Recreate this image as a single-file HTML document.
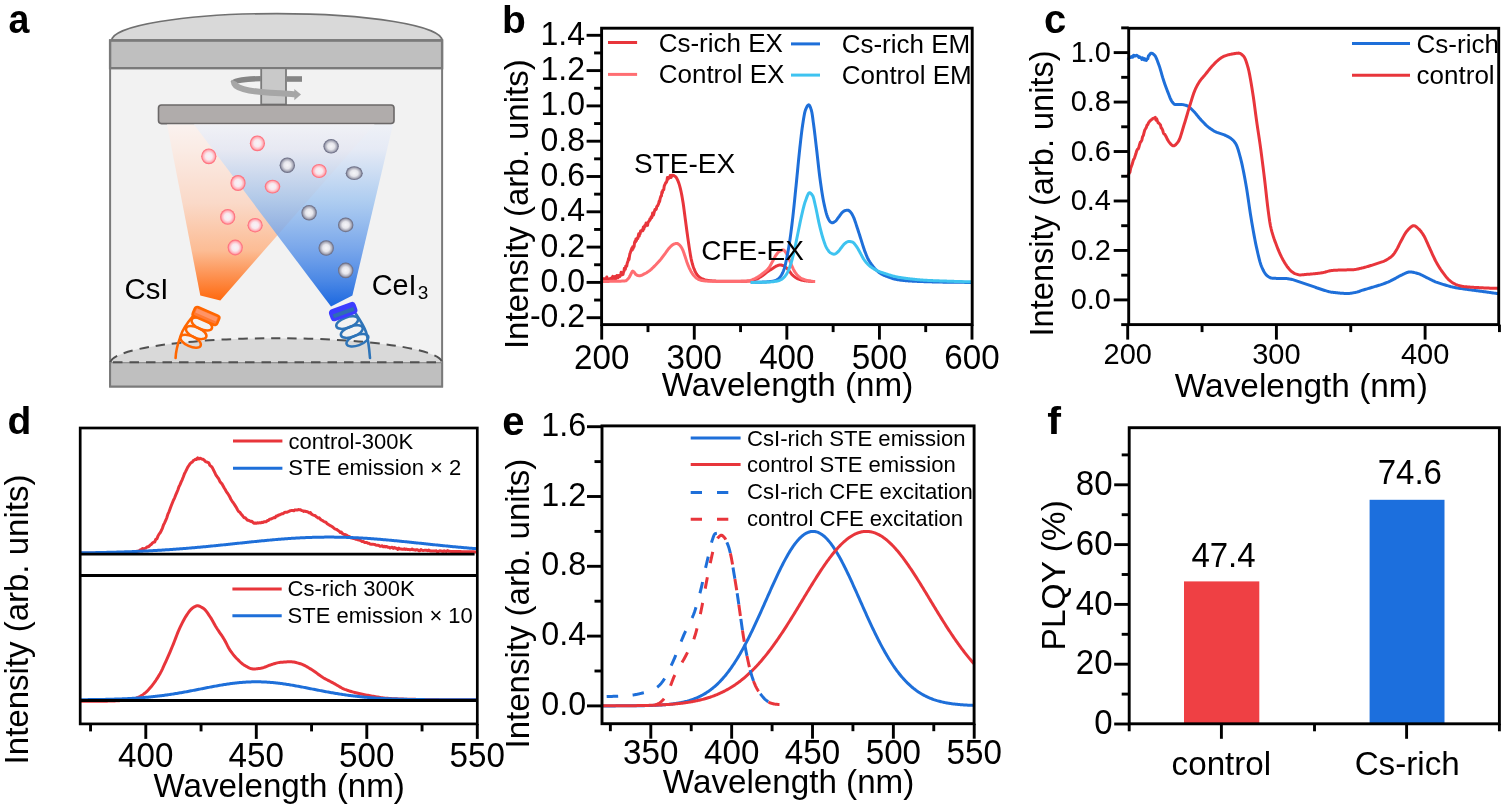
<!DOCTYPE html>
<html><head><meta charset="utf-8"><title>Figure</title>
<style>html,body{margin:0;padding:0;background:#fff;} svg{display:block;} text{font-family:'Liberation Sans', Arial, Helvetica, sans-serif;fill:#000;}</style>
</head><body>
<svg width="1501" height="808" viewBox="0 0 1501 808">
<rect x="0" y="0" width="1501" height="808" fill="#fff"/>
<defs>
<linearGradient id="gOr" gradientUnits="userSpaceOnUse" x1="0" y1="124" x2="0" y2="300"><stop offset="0" stop-color="#FAF2EF"/><stop offset="0.15" stop-color="#FAEBE4"/><stop offset="0.45" stop-color="#FAD9C8"/><stop offset="0.72" stop-color="#FCBC94"/><stop offset="0.86" stop-color="#FD9252"/><stop offset="1" stop-color="#FF6A10"/></linearGradient>
<linearGradient id="gBl" gradientUnits="userSpaceOnUse" x1="0" y1="124" x2="0" y2="306"><stop offset="0" stop-color="#EEF1F8" stop-opacity="0.8"/><stop offset="0.14" stop-color="#E2E8F6" stop-opacity="0.8"/><stop offset="0.42" stop-color="#9EC4F0" stop-opacity="0.8"/><stop offset="0.7" stop-color="#6298E9" stop-opacity="0.86"/><stop offset="0.86" stop-color="#3F80E4" stop-opacity="0.93"/><stop offset="1" stop-color="#1C68E0" stop-opacity="1"/></linearGradient>
<radialGradient id="gRs" cx="0.5" cy="0.5" r="0.5"><stop offset="0" stop-color="#F6F4F8"/><stop offset="0.45" stop-color="#F9E8EE"/><stop offset="0.75" stop-color="#FFB2BA"/><stop offset="0.9" stop-color="#FF7884"/><stop offset="1" stop-color="#FF6A78"/></radialGradient>
<radialGradient id="gGs" cx="0.5" cy="0.5" r="0.5"><stop offset="0" stop-color="#F6F6F9"/><stop offset="0.45" stop-color="#E6E6EC"/><stop offset="0.75" stop-color="#ABACBA"/><stop offset="0.9" stop-color="#77798F"/><stop offset="1" stop-color="#65677D"/></radialGradient>
</defs>
<path d="M111.6,40.6 A165.3,27 0 0 1 442.2,40.6 Z" fill="#D9D9D9" stroke="#707070" stroke-width="1.6"/>
<rect x="110.1" y="40.2" width="332" height="346.3" fill="#F2F2F2" stroke="#7A7A7A" stroke-width="2"/>
<rect x="110.1" y="40.6" width="332" height="27.6" fill="#BFBFBF" stroke="#7A7A7A" stroke-width="2.4"/>
<rect x="110.1" y="362.2" width="332" height="24.3" fill="#BFBFBF" stroke="#7A7A7A" stroke-width="2"/>
<path d="M110.5,362.2 A165.8,24.6 0 0 1 442,362.2 Z" fill="#D9D9D9"/>
<path d="M110.5,362.2 A165.8,24.6 0 0 1 442,362.2" fill="none" stroke="#505050" stroke-width="2" stroke-dasharray="9.5,7"/>
<line x1="111" y1="362.2" x2="441" y2="362.2" stroke="#505050" stroke-width="2" stroke-dasharray="9.5,7" stroke-dashoffset="-2"/>
<rect x="261.2" y="68.2" width="24.8" height="36.3" fill="#C9C9C9" stroke="#7A7A7A" stroke-width="1.8"/>
<path d="M261,78.6 C245,79 234,80.5 233,83" fill="none" stroke="#858585" stroke-width="5.4"/>
<path d="M287,79 L302,79" fill="none" stroke="#858585" stroke-width="5.6"/>
<path d="M234.5,81 C231,88 250,91.5 270,92.7 C282,93.3 288,93.8 295,94.3" fill="none" stroke="#A6A6A6" stroke-width="6"/>
<path d="M294.3,89 L301,94.6 L294.3,100.3 Z" fill="#A6A6A6"/>
<rect x="158.5" y="105" width="235.5" height="18.6" rx="3" fill="#B0ACAB" stroke="#6B6868" stroke-width="1.6"/>
<polygon points="167,124.4 374.5,124.4 220.3,300.5 200.3,295.5" fill="url(#gOr)"/>
<polygon points="194,124.4 393,124.4 352.4,295.5 331,306.6" fill="url(#gBl)"/>
<ellipse cx="208.8" cy="156.3" rx="7.6" ry="7.9" fill="url(#gRs)"/>
<ellipse cx="257.4" cy="143.3" rx="7.6" ry="7.9" fill="url(#gRs)"/>
<ellipse cx="238" cy="183" rx="7.6" ry="8" fill="url(#gRs)"/>
<ellipse cx="272.5" cy="186.6" rx="7.8" ry="6.9" fill="url(#gRs)"/>
<ellipse cx="319.1" cy="171" rx="7.6" ry="7.0" fill="url(#gRs)"/>
<ellipse cx="227.7" cy="216.9" rx="7.6" ry="7.9" fill="url(#gRs)"/>
<ellipse cx="255.1" cy="225.2" rx="7.6" ry="7.2" fill="url(#gRs)"/>
<ellipse cx="235.2" cy="247.5" rx="7.6" ry="7.9" fill="url(#gRs)"/>
<ellipse cx="331.1" cy="146.3" rx="7.7" ry="7.3" fill="url(#gGs)"/>
<ellipse cx="287.3" cy="165.2" rx="7.7" ry="7.8" fill="url(#gGs)"/>
<ellipse cx="354.2" cy="173.2" rx="8.5" ry="6.9" fill="url(#gGs)"/>
<ellipse cx="309.1" cy="212.7" rx="7.7" ry="7.8" fill="url(#gGs)"/>
<ellipse cx="345.7" cy="224.9" rx="7.7" ry="7.3" fill="url(#gGs)"/>
<ellipse cx="326.2" cy="248" rx="7.7" ry="7.8" fill="url(#gGs)"/>
<ellipse cx="345.7" cy="270.4" rx="7.7" ry="7.8" fill="url(#gGs)"/>
<ellipse cx="201.8" cy="324.0" rx="11" ry="5.2" transform="rotate(24 201.8 324.0)" fill="none" stroke="#FF6600" stroke-width="2.5"/>
<ellipse cx="196.2" cy="332.6" rx="11" ry="5.2" transform="rotate(24 196.2 332.6)" fill="none" stroke="#FF6600" stroke-width="2.5"/>
<ellipse cx="190.6" cy="341.2" rx="11" ry="5.2" transform="rotate(24 190.6 341.2)" fill="none" stroke="#FF6600" stroke-width="2.5"/>
<path d="M193,316 C188,322 183,328 181,335 C179,341 176,347 175.6,358" fill="none" stroke="#FF6600" stroke-width="2.6" stroke-linecap="round"/>
<g transform="translate(206,316) rotate(23.5)"><rect x="-13.2" y="-5" width="26.4" height="10" rx="2.6" fill="#FF7A35" stroke="#FF6600" stroke-width="2.6"/><rect x="-11.2" y="-3.2" width="22.4" height="4.2" fill="#FF9466"/></g>
<ellipse cx="347.2" cy="322.6" rx="11.5" ry="5.2" transform="rotate(-20 347.2 322.6)" fill="none" stroke="#2E74B8" stroke-width="2.5"/>
<ellipse cx="351.8" cy="331.6" rx="11.5" ry="5.2" transform="rotate(-20 351.8 331.6)" fill="none" stroke="#2E74B8" stroke-width="2.5"/>
<ellipse cx="357.4" cy="340.2" rx="11.5" ry="5.2" transform="rotate(-20 357.4 340.2)" fill="none" stroke="#2E74B8" stroke-width="2.5"/>
<path d="M356,314 C360,320 364,326 366,332 C368,338 369,346 370,358" fill="none" stroke="#2E74B8" stroke-width="2.6" stroke-linecap="round"/>
<g transform="translate(343.2,311.6) rotate(-20)"><rect x="-12.8" y="-5" width="25.6" height="10" rx="2.6" fill="#3C3CFF" stroke="#3C3CFF" stroke-width="2.6"/><rect x="-11" y="-1" width="22" height="4.2" fill="#2F6DB4"/></g>
<text x="124.5" y="299.2" font-size="29.3" >CsI</text>
<text x="371.8" y="295" font-size="28.8">CeI<tspan font-size="19" dx="1.2" dy="4.2">3</tspan></text>
<text transform="translate(8.6,33.4) scale(0.94,1.0)" font-size="40" font-weight="bold" >a</text>
<polyline points="601.7,278.69 602.16,278.73 602.63,278.77 603.09,278.8 603.55,278.82 604.01,278.84 604.48,278.85 604.94,278.86 605.4,278.87 605.87,278.87 606.33,278.87 606.79,276.97 607.25,278.39 607.72,278.72 608.18,280.77 608.64,279.05 609.11,279.09 609.57,278.76 610.03,279.29 610.49,278.62 610.96,279.02 611.42,279.85 611.88,277.45 612.35,277.36 612.81,276.39 613.27,278.04 613.73,278.41 614.2,278.43 614.66,279.37 615.12,276.55 615.59,278.62 616.05,278.57 616.51,277.39 616.97,275.44 617.44,276.59 617.9,277.74 618.36,277.21 618.83,275.56 619.29,276.14 619.75,276.51 620.22,275.59 620.68,274.11 621.14,272.28 621.6,275.1 622.07,273.81 622.53,273.34 622.99,274.37 623.46,272.08 623.92,271.43 624.38,268.33 624.84,268.78 625.31,269.41 625.77,266.01 626.23,265.95 626.7,266.16 627.16,263.58 627.62,262.14 628.08,260.99 628.55,258.59 629.01,259.61 629.47,256.21 629.94,253.61 630.4,252.56 630.86,251.08 631.32,249.88 631.79,248.32 632.25,249.95 632.71,246.76 633.18,248.55 633.64,246.18 634.1,246.56 634.56,242.45 635.03,241.2 635.49,241.9 635.95,238.92 636.42,240.63 636.88,238.9 637.34,238.06 637.8,238.52 638.27,236.12 638.73,233.75 639.19,236.13 639.66,233.34 640.12,233.72 640.58,230.95 641.04,231.58 641.51,230.65 641.97,229.94 642.43,229.62 642.9,230.62 643.36,226.93 643.82,229.12 644.28,226.69 644.75,225.57 645.21,226.4 645.67,224.67 646.14,222.92 646.6,223.54 647.06,223.84 647.52,225.39 647.99,222.75 648.45,221.78 648.91,221.13 649.38,221.03 649.84,219.02 650.3,219.42 650.76,218.3 651.23,216.8 651.69,217.71 652.15,216.38 652.62,212.99 653.08,213.53 653.54,214.98 654,212.82 654.47,211.25 654.93,209.64 655.39,209.88 655.86,209.68 656.32,208.98 656.78,206.59 657.25,205.99 657.71,205.89 658.17,204.53 658.63,203.71 659.1,201.38 659.56,201.7 660.02,199.14 660.49,197.3 660.95,196.16 661.41,195.99 661.87,192.12 662.34,192.75 662.8,190.17 663.26,190.06 663.73,189.75 664.19,186.35 664.65,185.03 665.11,184.27 665.58,182.87 666.04,182.86 666.5,182.01 666.97,180.52 667.43,177.51 667.89,177.97 668.35,178.82 668.82,177.17 669.28,177.77 669.74,177.27 670.21,175.44 670.67,176.52 671.13,177.42 671.59,176.38 672.06,175.29 672.52,175.27 672.98,175.34 673.45,175.48 673.91,175.68 674.37,175.92 674.83,176.2 675.3,176.5 675.76,176.92 676.22,177.52 676.69,178.28 677.15,179.17 677.61,180.15 678.07,181.19 678.54,182.31 679,183.64 679.46,185.16 679.93,186.86 680.39,188.68 680.85,190.62 681.31,192.74 681.78,195.11 682.24,197.69 682.7,200.44 683.17,203.33 683.63,206.49 684.09,209.96 684.55,213.56 685.02,217.09 685.48,220.57 685.94,224.06 686.41,227.54 686.87,230.97 687.33,234.31 687.79,237.62 688.26,240.88 688.72,244.05 689.18,247.1 689.65,250.11 690.11,253.1 690.57,255.89 691.03,258.32 691.5,260.37 691.96,262.27 692.42,264.01 692.89,265.59 693.35,267.02 693.81,268.28 694.28,269.43 694.74,270.52 695.2,271.53 695.66,272.45 696.13,273.29 696.59,274.02 697.05,274.63 697.52,275.17 697.98,275.68 698.44,276.15 698.9,276.59 699.37,276.99 699.83,277.36 700.29,277.7 700.76,278 701.22,278.28 701.68,278.52 702.14,278.74 702.61,278.95 703.07,279.15 703.53,279.34 704,279.52 704.46,279.69 704.92,279.84 705.38,279.97 705.85,280.09 706.31,280.19 706.77,280.27 707.24,280.33 707.7,280.4 708.16,280.46 708.62,280.52 709.09,280.58 709.55,280.63 710.01,280.68 710.48,280.73 710.94,280.78 711.4,280.82 711.86,280.87 712.33,280.9 712.79,280.94 713.25,280.98 713.72,281.01 714.18,281.04 714.64,281.06 715.1,281.09 715.57,281.11 716.03,281.13 716.49,281.14 716.96,281.15 717.42,281.16 717.88,281.17 718.34,281.18 718.81,281.19 719.27,281.2 719.73,281.2 720.2,281.21 720.66,281.22 721.12,281.23 721.58,281.23 722.05,281.24 722.51,281.25 722.97,281.25 723.44,281.26 723.9,281.26 724.36,281.27 724.82,281.28 725.29,281.28 725.75,281.29 726.21,281.29 726.68,281.3 727.14,281.3 727.6,281.3 728.06,281.31 728.53,281.31 728.99,281.32 729.45,281.32 729.92,281.32 730.38,281.32 730.84,281.33 731.31,281.33 731.77,281.33 732.23,281.33 732.69,281.34 733.16,281.34 733.62,281.34 734.08,281.34 734.55,281.34 735.01,281.34 735.47,281.34 735.93,281.34 736.4,281.34 736.86,281.34 737.32,281.34 737.79,281.34 738.25,281.33 738.71,281.33 739.17,281.32 739.64,281.32 740.1,281.31 740.56,281.31 741.03,281.3 741.49,281.29 741.95,281.28 742.41,281.27 742.88,281.26 743.34,281.25 743.8,281.24 744.27,281.23 744.73,281.22 745.19,281.2 745.65,281.19 746.12,281.17 746.58,281.16 747.04,281.14 747.51,281.12 747.97,281.1 748.43,281.08 748.89,281.06 749.36,281.04 749.82,281.02 750.28,281 750.75,280.97 751.21,280.91 751.67,280.83 752.13,280.73 752.6,280.61 753.06,280.46 753.52,280.31 753.99,280.14 754.45,279.96 754.91,279.78 755.37,279.6 755.84,279.41 756.3,279.22 756.76,279.03 757.23,278.82 757.69,278.59 758.15,278.35 758.61,278.1 759.08,277.83 759.54,277.55 760,277.27 760.47,276.97 760.93,276.67 761.39,276.37 761.85,276.06 762.32,275.75 762.78,275.44 763.24,275.1 763.71,274.75 764.17,274.38 764.63,274 765.09,273.62 765.56,273.24 766.02,272.87 766.48,272.5 766.95,272.15 767.41,271.81 767.87,271.49 768.34,271.17 768.8,270.86 769.26,270.56 769.72,270.26 770.19,269.97 770.65,269.68 771.11,269.39 771.58,269.1 772.04,268.81 772.5,268.52 772.96,268.21 773.43,267.9 773.89,267.59 774.35,267.28 774.82,266.98 775.28,266.69 775.74,266.43 776.2,266.19 776.67,265.99 777.13,265.8 777.59,265.6 778.06,265.42 778.52,265.25 778.98,265.11 779.44,265 779.91,264.94 780.37,264.93 780.83,264.97 781.3,265.06 781.76,265.17 782.22,265.31 782.68,265.47 783.15,265.63 783.61,265.83 784.07,266.09 784.54,266.4 785,266.75 785.46,267.13 785.92,267.52 786.39,267.91 786.85,268.35 787.31,268.82 787.78,269.33 788.24,269.85 788.7,270.39 789.16,270.93 789.63,271.49 790.09,272.1 790.55,272.72 791.02,273.33 791.48,273.92 791.94,274.44 792.4,274.9 792.87,275.34 793.33,275.76 793.79,276.16 794.26,276.54 794.72,276.89 795.18,277.22 795.64,277.53 796.11,277.81 796.57,278.07 797.03,278.32 797.5,278.56 797.96,278.78 798.42,278.99 798.88,279.18 799.35,279.36 799.81,279.52 800.27,279.66 800.74,279.8 801.2,279.94 801.66,280.06 802.12,280.19 802.59,280.3 803.05,280.41 803.51,280.51 803.98,280.6 804.44,280.68 804.9,280.75 805.37,280.81 805.83,280.87 806.29,280.92 806.75,280.97 807.22,281.02 807.68,281.07 808.14,281.12 808.61,281.16 809.07,281.21 809.53,281.25 809.99,281.29 810.46,281.33 810.92,281.36 811.38,281.39 811.85,281.42 812.31,281.45 812.77,281.47 813.23,281.49 813.7,281.5 814.16,281.51 814.62,281.52 815.09,281.52" fill="none" stroke="#E8353B" stroke-width="3.0" stroke-linejoin="round" stroke-linecap="butt" />
<polyline points="601.7,281.52 602.16,281.51 602.63,281.5 603.09,281.49 603.55,281.48 604.01,281.47 604.48,281.46 604.94,281.46 605.4,281.45 605.87,281.44 606.33,281.43 606.79,281.42 607.25,281.41 607.72,281.4 608.18,281.39 608.64,281.39 609.11,281.38 609.57,281.37 610.03,281.36 610.49,281.35 610.96,281.34 611.42,281.33 611.88,281.32 612.35,281.32 612.81,281.31 613.27,281.3 613.73,281.29 614.2,281.29 614.66,281.28 615.12,281.27 615.59,281.27 616.05,281.26 616.51,281.25 616.97,281.24 617.44,281.23 617.9,281.22 618.36,281.21 618.83,281.2 619.29,281.19 619.75,281.18 620.22,281.16 620.68,281.15 621.14,281.14 621.6,281.12 622.07,281.1 622.53,281.08 622.99,281.06 623.46,281.03 623.92,281 624.38,280.96 624.84,280.91 625.31,280.86 625.77,280.79 626.23,280.57 626.7,280.18 627.16,279.71 627.62,279.22 628.08,278.73 628.55,278.17 629.01,277.55 629.47,276.87 629.94,276.09 630.4,275.13 630.86,274.12 631.32,273.22 631.79,272.32 632.25,271.48 632.71,271.1 633.18,271.28 633.64,271.69 634.1,272.16 634.56,272.75 635.03,273.47 635.49,274.1 635.95,274.51 636.42,274.86 636.88,275.16 637.34,275.39 637.8,275.52 638.27,275.59 638.73,275.64 639.19,275.68 639.66,275.69 640.12,275.66 640.58,275.58 641.04,275.45 641.51,275.28 641.97,275.08 642.43,274.86 642.9,274.63 643.36,274.39 643.82,274.15 644.28,273.93 644.75,273.7 645.21,273.47 645.67,273.22 646.14,272.96 646.6,272.68 647.06,272.4 647.52,272.1 647.99,271.8 648.45,271.48 648.91,271.15 649.38,270.82 649.84,270.47 650.3,270.1 650.76,269.71 651.23,269.3 651.69,268.87 652.15,268.44 652.62,267.99 653.08,267.53 653.54,267.08 654,266.62 654.47,266.16 654.93,265.7 655.39,265.24 655.86,264.78 656.32,264.3 656.78,263.82 657.25,263.33 657.71,262.84 658.17,262.33 658.63,261.82 659.1,261.29 659.56,260.76 660.02,260.21 660.49,259.64 660.95,259.05 661.41,258.46 661.87,257.85 662.34,257.24 662.8,256.63 663.26,256.01 663.73,255.39 664.19,254.77 664.65,254.16 665.11,253.54 665.58,252.9 666.04,252.24 666.5,251.59 666.97,250.93 667.43,250.29 667.89,249.66 668.35,249.07 668.82,248.5 669.28,247.98 669.74,247.48 670.21,246.98 670.67,246.5 671.13,246.03 671.59,245.6 672.06,245.22 672.52,244.89 672.98,244.63 673.45,244.41 673.91,244.19 674.37,243.99 674.83,243.8 675.3,243.64 675.76,243.52 676.22,243.43 676.69,243.39 677.15,243.44 677.61,243.61 678.07,243.88 678.54,244.22 679,244.59 679.46,244.98 679.93,245.42 680.39,245.95 680.85,246.57 681.31,247.27 681.78,248.04 682.24,248.86 682.7,249.82 683.17,250.95 683.63,252.21 684.09,253.56 684.55,254.93 685.02,256.28 685.48,257.67 685.94,259.15 686.41,260.63 686.87,262.03 687.33,263.3 687.79,264.49 688.26,265.64 688.72,266.73 689.18,267.78 689.65,268.76 690.11,269.69 690.57,270.58 691.03,271.44 691.5,272.26 691.96,273.03 692.42,273.75 692.89,274.4 693.35,274.98 693.81,275.53 694.28,276.06 694.74,276.56 695.2,277.03 695.66,277.46 696.13,277.86 696.59,278.21 697.05,278.52 697.52,278.79 697.98,279.06 698.44,279.31 698.9,279.54 699.37,279.75 699.83,279.93 700.29,280.09 700.76,280.22 701.22,280.32 701.68,280.41 702.14,280.5 702.61,280.58 703.07,280.66 703.53,280.73 704,280.8 704.46,280.86 704.92,280.92 705.38,280.97 705.85,281.02 706.31,281.06 706.77,281.09 707.24,281.12 707.7,281.15 708.16,281.16 708.62,281.18 709.09,281.19 709.55,281.21 710.01,281.22 710.48,281.23 710.94,281.25 711.4,281.26 711.86,281.27 712.33,281.28 712.79,281.29 713.25,281.31 713.72,281.32 714.18,281.33 714.64,281.34 715.1,281.35 715.57,281.36 716.03,281.37 716.49,281.38 716.96,281.39 717.42,281.39 717.88,281.4 718.34,281.41 718.81,281.42 719.27,281.43 719.73,281.43 720.2,281.44 720.66,281.45 721.12,281.45 721.58,281.46 722.05,281.46 722.51,281.47 722.97,281.47 723.44,281.48 723.9,281.48 724.36,281.49 724.82,281.49 725.29,281.49 725.75,281.5 726.21,281.5 726.68,281.5 727.14,281.51 727.6,281.51 728.06,281.51 728.53,281.51 728.99,281.51 729.45,281.52 729.92,281.52 730.38,281.52 730.84,281.52 731.31,281.52 731.77,281.52 732.23,281.52 732.69,281.51 733.16,281.51 733.62,281.51 734.08,281.51 734.55,281.5 735.01,281.5 735.47,281.49 735.93,281.48 736.4,281.48 736.86,281.47 737.32,281.46 737.79,281.45 738.25,281.44 738.71,281.43 739.17,281.42 739.64,281.4 740.1,281.39 740.56,281.38 741.03,281.36 741.49,281.35 741.95,281.33 742.41,281.31 742.88,281.29 743.34,281.27 743.8,281.25 744.27,281.23 744.73,281.21 745.19,281.18 745.65,281.16 746.12,281.14 746.58,281.11 747.04,281.08 747.51,281.05 747.97,281.02 748.43,280.99 748.89,280.95 749.36,280.87 749.82,280.75 750.28,280.61 750.75,280.44 751.21,280.25 751.67,280.05 752.13,279.85 752.6,279.64 753.06,279.43 753.52,279.22 753.99,279.02 754.45,278.8 754.91,278.58 755.37,278.34 755.84,278.09 756.3,277.84 756.76,277.58 757.23,277.31 757.69,277.03 758.15,276.75 758.61,276.46 759.08,276.16 759.54,275.85 760,275.53 760.47,275.2 760.93,274.86 761.39,274.51 761.85,274.15 762.32,273.79 762.78,273.43 763.24,273.06 763.71,272.69 764.17,272.33 764.63,271.97 765.09,271.61 765.56,271.25 766.02,270.87 766.48,270.48 766.95,270.07 767.41,269.63 767.87,269.15 768.34,268.63 768.8,268.05 769.26,267.37 769.72,266.63 770.19,265.83 770.65,264.99 771.11,264.13 771.58,263.26 772.04,262.4 772.5,261.57 772.96,260.73 773.43,259.85 773.89,258.94 774.35,258.03 774.82,257.15 775.28,256.31 775.74,255.54 776.2,254.87 776.67,254.24 777.13,253.63 777.59,253.05 778.06,252.52 778.52,252.05 778.98,251.65 779.44,251.34 779.91,251.08 780.37,250.83 780.83,250.59 781.3,250.38 781.76,250.2 782.22,250.06 782.68,249.97 783.15,249.93 783.61,250.01 784.07,250.33 784.54,250.83 785,251.44 785.46,252.1 785.92,252.75 786.39,253.43 786.85,254.23 787.31,255.11 787.78,256.04 788.24,257 788.7,258.05 789.16,259.19 789.63,260.37 790.09,261.57 790.55,262.75 791.02,263.87 791.48,264.96 791.94,266.06 792.4,267.15 792.87,268.2 793.33,269.19 793.79,270.1 794.26,270.9 794.72,271.64 795.18,272.34 795.64,272.99 796.11,273.61 796.57,274.2 797.03,274.74 797.5,275.24 797.96,275.69 798.42,276.12 798.88,276.53 799.35,276.92 799.81,277.29 800.27,277.64 800.74,277.96 801.2,278.25 801.66,278.51 802.12,278.74 802.59,278.95 803.05,279.15 803.51,279.34 803.98,279.52 804.44,279.69 804.9,279.85 805.37,279.99 805.83,280.13 806.29,280.25 806.75,280.36 807.22,280.46 807.68,280.55 808.14,280.64 808.61,280.73 809.07,280.82 809.53,280.91 809.99,280.99 810.46,281.07 810.92,281.14 811.38,281.21 811.85,281.27 812.31,281.33 812.77,281.38 813.23,281.43 813.7,281.46 814.16,281.49 814.62,281.51 815.09,281.52" fill="none" stroke="#FF6E72" stroke-width="3.0" stroke-linejoin="round" stroke-linecap="butt" />
<polyline points="750.75,282.4 751.21,282.4 751.67,282.4 752.13,282.39 752.6,282.39 753.06,282.39 753.52,282.38 753.99,282.37 754.45,282.36 754.91,282.35 755.37,282.34 755.84,282.33 756.3,282.32 756.76,282.31 757.23,282.29 757.69,282.28 758.15,282.27 758.61,282.25 759.08,282.23 759.54,282.22 760,282.2 760.47,282.18 760.93,282.16 761.39,282.15 761.85,282.13 762.32,282.11 762.78,282.09 763.24,282.07 763.71,282.05 764.17,282.03 764.63,282 765.09,281.98 765.56,281.95 766.02,281.92 766.48,281.89 766.95,281.86 767.41,281.82 767.87,281.79 768.34,281.74 768.8,281.7 769.26,281.65 769.72,281.6 770.19,281.55 770.65,281.5 771.11,281.44 771.58,281.37 772.04,281.31 772.5,281.24 772.96,281.16 773.43,281.08 773.89,280.97 774.35,280.84 774.82,280.69 775.28,280.52 775.74,280.33 776.2,280.13 776.67,279.9 777.13,279.66 777.59,279.4 778.06,279.1 778.52,278.72 778.98,278.29 779.44,277.79 779.91,277.25 780.37,276.65 780.83,276.01 781.3,275.34 781.76,274.59 782.22,273.72 782.68,272.74 783.15,271.65 783.61,270.45 784.07,269.16 784.54,267.69 785,265.99 785.46,264.09 785.92,262.04 786.39,259.9 786.85,257.69 787.31,255.39 787.78,252.94 788.24,250.35 788.7,247.63 789.16,244.77 789.63,241.8 790.09,238.68 790.55,235.36 791.02,231.87 791.48,228.24 791.94,224.48 792.4,220.62 792.87,216.62 793.33,212.42 793.79,208.06 794.26,203.59 794.72,199.05 795.18,194.46 795.64,189.88 796.11,185.32 796.57,180.73 797.03,176.01 797.5,171.23 797.96,166.44 798.42,161.7 798.88,157.05 799.35,152.55 799.81,148.26 800.27,144.08 800.74,139.95 801.2,135.93 801.66,132.1 802.12,128.54 802.59,125.31 803.05,122.27 803.51,119.26 803.98,116.43 804.44,113.91 804.9,111.83 805.37,110.31 805.83,109.15 806.29,108.04 806.75,107.04 807.22,106.19 807.68,105.51 808.14,105.05 808.61,104.85 809.07,104.99 809.53,105.53 809.99,106.42 810.46,107.56 810.92,108.88 811.38,110.31 811.85,112.27 812.31,115.03 812.77,118.32 813.23,121.84 813.7,125.31 814.16,128.8 814.62,132.51 815.09,136.38 815.55,140.34 816.01,144.32 816.47,148.26 816.94,152.24 817.4,156.35 817.86,160.53 818.33,164.71 818.79,168.81 819.25,172.78 819.71,176.54 820.18,180.03 820.64,183.33 821.1,186.54 821.57,189.66 822.03,192.65 822.49,195.5 822.95,198.18 823.42,200.68 823.88,202.97 824.34,205.14 824.81,207.24 825.27,209.25 825.73,211.14 826.19,212.9 826.66,214.5 827.12,215.9 827.58,217.09 828.05,218.15 828.51,219.14 828.97,220.04 829.43,220.81 829.9,221.43 830.36,221.86 830.82,222.19 831.29,222.47 831.75,222.67 832.21,222.74 832.67,222.69 833.14,222.55 833.6,222.35 834.06,222.09 834.53,221.8 834.99,221.51 835.45,221.16 835.91,220.7 836.38,220.17 836.84,219.58 837.3,218.96 837.77,218.32 838.23,217.69 838.69,217.09 839.15,216.49 839.62,215.85 840.08,215.19 840.54,214.53 841.01,213.89 841.47,213.3 841.93,212.77 842.39,212.33 842.86,211.94 843.32,211.57 843.78,211.23 844.25,210.94 844.71,210.71 845.17,210.56 845.64,210.47 846.1,210.39 846.56,210.31 847.02,210.26 847.49,210.22 847.95,210.21 848.41,210.3 848.88,210.54 849.34,210.9 849.8,211.35 850.26,211.83 850.73,212.33 851.19,212.89 851.65,213.56 852.12,214.34 852.58,215.2 853.04,216.13 853.5,217.09 853.97,218.15 854.43,219.34 854.89,220.63 855.36,221.99 855.82,223.41 856.28,224.85 856.74,226.28 857.21,227.68 857.67,229.08 858.13,230.49 858.6,231.92 859.06,233.36 859.52,234.81 859.98,236.27 860.45,237.72 860.91,239.16 861.37,240.61 861.84,242.1 862.3,243.59 862.76,245.08 863.22,246.55 863.69,247.97 864.15,249.34 864.61,250.63 865.08,251.87 865.54,253.09 866,254.28 866.46,255.43 866.93,256.53 867.39,257.58 867.85,258.55 868.32,259.45 868.78,260.29 869.24,261.07 869.7,261.82 870.17,262.52 870.63,263.2 871.09,263.85 871.56,264.48 872.02,265.1 872.48,265.72 872.94,266.32 873.41,266.91 873.87,267.48 874.33,268.03 874.8,268.56 875.26,269.05 875.72,269.52 876.18,269.96 876.65,270.39 877.11,270.81 877.57,271.22 878.04,271.62 878.5,272 878.96,272.37 879.42,272.72 879.89,273.05 880.35,273.36 880.81,273.66 881.28,273.93 881.74,274.18 882.2,274.43 882.67,274.66 883.13,274.89 883.59,275.1 884.05,275.31 884.52,275.51 884.98,275.71 885.44,275.89 885.91,276.08 886.37,276.26 886.83,276.43 887.29,276.6 887.76,276.77 888.22,276.94 888.68,277.1 889.15,277.27 889.61,277.44 890.07,277.61 890.53,277.77 891,277.94 891.46,278.1 891.92,278.26 892.39,278.41 892.85,278.56 893.31,278.71 893.77,278.84 894.24,278.97 894.7,279.09 895.16,279.21 895.63,279.31 896.09,279.4 896.55,279.48 897.01,279.57 897.48,279.65 897.94,279.72 898.4,279.8 898.87,279.87 899.33,279.94 899.79,280.01 900.25,280.08 900.72,280.14 901.18,280.2 901.64,280.26 902.11,280.32 902.57,280.38 903.03,280.43 903.49,280.48 903.96,280.53 904.42,280.57 904.88,280.62 905.35,280.66 905.81,280.7 906.27,280.74 906.73,280.78 907.2,280.81 907.66,280.84 908.12,280.88 908.59,280.91 909.05,280.94 909.51,280.97 909.97,281 910.44,281.03 910.9,281.06 911.36,281.08 911.83,281.11 912.29,281.14 912.75,281.16 913.21,281.19 913.68,281.21 914.14,281.24 914.6,281.26 915.07,281.28 915.53,281.3 915.99,281.33 916.46,281.35 916.92,281.37 917.38,281.39 917.84,281.41 918.31,281.43 918.77,281.45 919.23,281.47 919.7,281.48 920.16,281.5 920.62,281.52 921.08,281.54 921.55,281.55 922.01,281.57 922.47,281.59 922.94,281.6 923.4,281.62 923.86,281.63 924.32,281.65 924.79,281.66 925.25,281.68 925.71,281.69 926.18,281.71 926.64,281.72 927.1,281.74 927.56,281.75 928.03,281.77 928.49,281.78 928.95,281.79 929.42,281.81 929.88,281.82 930.34,281.83 930.8,281.85 931.27,281.86 931.73,281.87 932.19,281.89 932.66,281.9 933.12,281.91 933.58,281.92 934.04,281.94 934.51,281.95 934.97,281.96 935.43,281.97 935.9,281.98 936.36,281.99 936.82,282.01 937.28,282.02 937.75,282.03 938.21,282.04 938.67,282.05 939.14,282.06 939.6,282.07 940.06,282.08 940.52,282.09 940.99,282.1 941.45,282.11 941.91,282.12 942.38,282.12 942.84,282.13 943.3,282.14 943.76,282.15 944.23,282.16 944.69,282.17 945.15,282.17 945.62,282.18 946.08,282.19 946.54,282.19 947,282.2 947.47,282.21 947.93,282.21 948.39,282.22 948.86,282.22 949.32,282.23 949.78,282.23 950.24,282.24 950.71,282.24 951.17,282.25 951.63,282.26 952.1,282.26 952.56,282.27 953.02,282.27 953.49,282.28 953.95,282.28 954.41,282.29 954.87,282.29 955.34,282.3 955.8,282.3 956.26,282.31 956.73,282.31 957.19,282.31 957.65,282.32 958.11,282.32 958.58,282.33 959.04,282.33 959.5,282.34 959.97,282.34 960.43,282.34 960.89,282.35 961.35,282.35 961.82,282.36 962.28,282.36 962.74,282.36 963.21,282.37 963.67,282.37 964.13,282.37 964.59,282.38 965.06,282.38 965.52,282.38 965.98,282.38 966.45,282.39 966.91,282.39 967.37,282.39 967.83,282.39 968.3,282.39 968.76,282.4 969.22,282.4 969.69,282.4 970.15,282.4 970.61,282.4 971.07,282.4 971.54,282.4 972,282.4" fill="none" stroke="#1E6FD9" stroke-width="3.0" stroke-linejoin="round" stroke-linecap="butt" />
<polyline points="750.75,282.4 751.21,282.4 751.67,282.4 752.13,282.4 752.6,282.4 753.06,282.39 753.52,282.39 753.99,282.39 754.45,282.38 754.91,282.38 755.37,282.37 755.84,282.37 756.3,282.36 756.76,282.35 757.23,282.35 757.69,282.34 758.15,282.33 758.61,282.32 759.08,282.31 759.54,282.3 760,282.29 760.47,282.28 760.93,282.27 761.39,282.26 761.85,282.25 762.32,282.24 762.78,282.23 763.24,282.21 763.71,282.2 764.17,282.19 764.63,282.17 765.09,282.16 765.56,282.14 766.02,282.13 766.48,282.11 766.95,282.1 767.41,282.08 767.87,282.06 768.34,282.05 768.8,282.03 769.26,282.01 769.72,281.98 770.19,281.95 770.65,281.92 771.11,281.88 771.58,281.84 772.04,281.8 772.5,281.75 772.96,281.7 773.43,281.65 773.89,281.59 774.35,281.53 774.82,281.46 775.28,281.39 775.74,281.32 776.2,281.24 776.67,281.16 777.13,281.08 777.59,280.99 778.06,280.88 778.52,280.75 778.98,280.59 779.44,280.4 779.91,280.19 780.37,279.96 780.83,279.72 781.3,279.45 781.76,279.17 782.22,278.87 782.68,278.54 783.15,278.16 783.61,277.74 784.07,277.27 784.54,276.75 785,276.19 785.46,275.59 785.92,274.96 786.39,274.28 786.85,273.57 787.31,272.79 787.78,271.89 788.24,270.89 788.7,269.8 789.16,268.62 789.63,267.38 790.09,266.09 790.55,264.75 791.02,263.32 791.48,261.75 791.94,260.07 792.4,258.29 792.87,256.44 793.33,254.53 793.79,252.59 794.26,250.63 794.72,248.61 795.18,246.49 795.64,244.3 796.11,242.05 796.57,239.77 797.03,237.48 797.5,235.21 797.96,232.98 798.42,230.75 798.88,228.48 799.35,226.19 799.81,223.91 800.27,221.66 800.74,219.47 801.2,217.35 801.66,215.33 802.12,213.36 802.59,211.38 803.05,209.43 803.51,207.54 803.98,205.75 804.44,204.07 804.9,202.55 805.37,201.21 805.83,199.94 806.29,198.65 806.75,197.37 807.22,196.15 807.68,195.05 808.14,194.11 808.61,193.38 809.07,192.91 809.53,192.74 809.99,192.82 810.46,193.07 810.92,193.45 811.38,193.95 811.85,194.54 812.31,195.2 812.77,195.91 813.23,196.94 813.7,198.45 814.16,200.3 814.62,202.35 815.09,204.47 815.55,206.5 816.01,208.54 816.47,210.72 816.94,213 817.4,215.32 817.86,217.64 818.33,219.92 818.79,222.11 819.25,224.15 819.71,226.11 820.18,228.03 820.64,229.91 821.1,231.74 821.57,233.5 822.03,235.19 822.49,236.78 822.95,238.27 823.42,239.71 823.88,241.11 824.34,242.47 824.81,243.77 825.27,244.99 825.73,246.11 826.19,247.11 826.66,247.98 827.12,248.77 827.58,249.52 828.05,250.24 828.51,250.89 828.97,251.48 829.43,252 829.9,252.42 830.36,252.75 830.82,253.02 831.29,253.27 831.75,253.51 832.21,253.73 832.67,253.9 833.14,254.04 833.6,254.13 834.06,254.16 834.53,254.11 834.99,253.96 835.45,253.74 835.91,253.46 836.38,253.14 836.84,252.78 837.3,252.41 837.77,252.04 838.23,251.63 838.69,251.12 839.15,250.55 839.62,249.94 840.08,249.3 840.54,248.65 841.01,248.03 841.47,247.45 841.93,246.88 842.39,246.29 842.86,245.69 843.32,245.1 843.78,244.54 844.25,244.02 844.71,243.58 845.17,243.22 845.64,242.9 846.1,242.59 846.56,242.29 847.02,242.02 847.49,241.79 847.95,241.61 848.41,241.49 848.88,241.45 849.34,241.47 849.8,241.51 850.26,241.57 850.73,241.65 851.19,241.76 851.65,241.88 852.12,242.01 852.58,242.16 853.04,242.38 853.5,242.73 853.97,243.19 854.43,243.73 854.89,244.32 855.36,244.95 855.82,245.59 856.28,246.22 856.74,246.86 857.21,247.57 857.67,248.32 858.13,249.11 858.6,249.93 859.06,250.76 859.52,251.58 859.98,252.39 860.45,253.22 860.91,254.09 861.37,254.98 861.84,255.87 862.3,256.75 862.76,257.59 863.22,258.38 863.69,259.1 864.15,259.77 864.61,260.42 865.08,261.05 865.54,261.65 866,262.23 866.46,262.79 866.93,263.32 867.39,263.82 867.85,264.3 868.32,264.75 868.78,265.17 869.24,265.58 869.7,265.97 870.17,266.34 870.63,266.69 871.09,267.03 871.56,267.36 872.02,267.68 872.48,267.98 872.94,268.28 873.41,268.57 873.87,268.86 874.33,269.13 874.8,269.41 875.26,269.67 875.72,269.93 876.18,270.18 876.65,270.41 877.11,270.65 877.57,270.87 878.04,271.08 878.5,271.28 878.96,271.47 879.42,271.66 879.89,271.83 880.35,272 880.81,272.16 881.28,272.32 881.74,272.48 882.2,272.63 882.67,272.78 883.13,272.93 883.59,273.07 884.05,273.22 884.52,273.37 884.98,273.52 885.44,273.67 885.91,273.82 886.37,273.98 886.83,274.13 887.29,274.28 887.76,274.43 888.22,274.58 888.68,274.73 889.15,274.87 889.61,275.02 890.07,275.16 890.53,275.3 891,275.44 891.46,275.58 891.92,275.71 892.39,275.85 892.85,275.97 893.31,276.1 893.77,276.22 894.24,276.33 894.7,276.44 895.16,276.55 895.63,276.65 896.09,276.75 896.55,276.85 897.01,276.94 897.48,277.03 897.94,277.12 898.4,277.2 898.87,277.29 899.33,277.37 899.79,277.45 900.25,277.53 900.72,277.6 901.18,277.68 901.64,277.75 902.11,277.82 902.57,277.89 903.03,277.96 903.49,278.03 903.96,278.09 904.42,278.16 904.88,278.22 905.35,278.28 905.81,278.34 906.27,278.4 906.73,278.46 907.2,278.52 907.66,278.57 908.12,278.63 908.59,278.68 909.05,278.74 909.51,278.79 909.97,278.85 910.44,278.9 910.9,278.96 911.36,279.01 911.83,279.06 912.29,279.11 912.75,279.16 913.21,279.21 913.68,279.26 914.14,279.31 914.6,279.36 915.07,279.41 915.53,279.46 915.99,279.5 916.46,279.55 916.92,279.59 917.38,279.64 917.84,279.68 918.31,279.73 918.77,279.77 919.23,279.81 919.7,279.85 920.16,279.89 920.62,279.93 921.08,279.96 921.55,280 922.01,280.04 922.47,280.07 922.94,280.1 923.4,280.14 923.86,280.17 924.32,280.2 924.79,280.23 925.25,280.26 925.71,280.28 926.18,280.31 926.64,280.33 927.1,280.36 927.56,280.38 928.03,280.41 928.49,280.43 928.95,280.45 929.42,280.48 929.88,280.5 930.34,280.52 930.8,280.54 931.27,280.56 931.73,280.58 932.19,280.6 932.66,280.62 933.12,280.64 933.58,280.66 934.04,280.68 934.51,280.7 934.97,280.72 935.43,280.73 935.9,280.75 936.36,280.77 936.82,280.79 937.28,280.8 937.75,280.82 938.21,280.84 938.67,280.85 939.14,280.87 939.6,280.89 940.06,280.9 940.52,280.92 940.99,280.93 941.45,280.95 941.91,280.96 942.38,280.98 942.84,281 943.3,281.01 943.76,281.03 944.23,281.04 944.69,281.06 945.15,281.07 945.62,281.09 946.08,281.1 946.54,281.12 947,281.13 947.47,281.15 947.93,281.16 948.39,281.18 948.86,281.2 949.32,281.21 949.78,281.23 950.24,281.24 950.71,281.26 951.17,281.27 951.63,281.29 952.1,281.3 952.56,281.32 953.02,281.33 953.49,281.35 953.95,281.36 954.41,281.38 954.87,281.39 955.34,281.41 955.8,281.42 956.26,281.44 956.73,281.45 957.19,281.46 957.65,281.48 958.11,281.49 958.58,281.51 959.04,281.52 959.5,281.53 959.97,281.55 960.43,281.56 960.89,281.57 961.35,281.59 961.82,281.6 962.28,281.61 962.74,281.63 963.21,281.64 963.67,281.65 964.13,281.67 964.59,281.68 965.06,281.69 965.52,281.7 965.98,281.72 966.45,281.73 966.91,281.74 967.37,281.75 967.83,281.77 968.3,281.78 968.76,281.79 969.22,281.8 969.69,281.81 970.15,281.83 970.61,281.84 971.07,281.85 971.54,281.86 972,281.87" fill="none" stroke="#3EC3F0" stroke-width="3.0" stroke-linejoin="round" stroke-linecap="butt" />
<rect x="601.6" y="28.2" width="370.6" height="296.4" fill="none" stroke="#000" stroke-width="2.9"/>
<line x1="586.6" y1="317.7" x2="601.6" y2="317.7" stroke="#000" stroke-width="2.9"/>
<line x1="586.6" y1="282.4" x2="601.6" y2="282.4" stroke="#000" stroke-width="2.9"/>
<line x1="586.6" y1="247.1" x2="601.6" y2="247.1" stroke="#000" stroke-width="2.9"/>
<line x1="586.6" y1="211.8" x2="601.6" y2="211.8" stroke="#000" stroke-width="2.9"/>
<line x1="586.6" y1="176.5" x2="601.6" y2="176.5" stroke="#000" stroke-width="2.9"/>
<line x1="586.6" y1="141.2" x2="601.6" y2="141.2" stroke="#000" stroke-width="2.9"/>
<line x1="586.6" y1="105.9" x2="601.6" y2="105.9" stroke="#000" stroke-width="2.9"/>
<line x1="586.6" y1="70.6" x2="601.6" y2="70.6" stroke="#000" stroke-width="2.9"/>
<line x1="586.6" y1="35.3" x2="601.6" y2="35.3" stroke="#000" stroke-width="2.9"/>
<line x1="594.1" y1="300.05" x2="601.6" y2="300.05" stroke="#000" stroke-width="2.9"/>
<line x1="594.1" y1="264.75" x2="601.6" y2="264.75" stroke="#000" stroke-width="2.9"/>
<line x1="594.1" y1="229.45" x2="601.6" y2="229.45" stroke="#000" stroke-width="2.9"/>
<line x1="594.1" y1="194.15" x2="601.6" y2="194.15" stroke="#000" stroke-width="2.9"/>
<line x1="594.1" y1="158.85" x2="601.6" y2="158.85" stroke="#000" stroke-width="2.9"/>
<line x1="594.1" y1="123.55" x2="601.6" y2="123.55" stroke="#000" stroke-width="2.9"/>
<line x1="594.1" y1="88.25" x2="601.6" y2="88.25" stroke="#000" stroke-width="2.9"/>
<line x1="594.1" y1="52.95" x2="601.6" y2="52.95" stroke="#000" stroke-width="2.9"/>
<line x1="601.7" y1="324.6" x2="601.7" y2="339.6" stroke="#000" stroke-width="2.9"/>
<line x1="694.28" y1="324.6" x2="694.28" y2="339.6" stroke="#000" stroke-width="2.9"/>
<line x1="786.85" y1="324.6" x2="786.85" y2="339.6" stroke="#000" stroke-width="2.9"/>
<line x1="879.42" y1="324.6" x2="879.42" y2="339.6" stroke="#000" stroke-width="2.9"/>
<line x1="972" y1="324.6" x2="972" y2="339.6" stroke="#000" stroke-width="2.9"/>
<line x1="647.99" y1="324.6" x2="647.99" y2="332.1" stroke="#000" stroke-width="2.9"/>
<line x1="740.56" y1="324.6" x2="740.56" y2="332.1" stroke="#000" stroke-width="2.9"/>
<line x1="833.14" y1="324.6" x2="833.14" y2="332.1" stroke="#000" stroke-width="2.9"/>
<line x1="925.71" y1="324.6" x2="925.71" y2="332.1" stroke="#000" stroke-width="2.9"/>
<text transform="translate(585,327.2) scale(1.0,1.03)" font-size="32" text-anchor="end" >-0.2</text>
<text transform="translate(585,291.9) scale(1.0,1.03)" font-size="32" text-anchor="end" >0.0</text>
<text transform="translate(585,256.6) scale(1.0,1.03)" font-size="32" text-anchor="end" >0.2</text>
<text transform="translate(585,221.3) scale(1.0,1.03)" font-size="32" text-anchor="end" >0.4</text>
<text transform="translate(585,186) scale(1.0,1.03)" font-size="32" text-anchor="end" >0.6</text>
<text transform="translate(585,150.7) scale(1.0,1.03)" font-size="32" text-anchor="end" >0.8</text>
<text transform="translate(585,115.4) scale(1.0,1.03)" font-size="32" text-anchor="end" >1.0</text>
<text transform="translate(585,80.1) scale(1.0,1.03)" font-size="32" text-anchor="end" >1.2</text>
<text transform="translate(585,44.8) scale(1.0,1.03)" font-size="32" text-anchor="end" >1.4</text>
<text transform="translate(601.7,368.5) scale(1.0,1.03)" font-size="33.2" text-anchor="middle" >200</text>
<text transform="translate(694.28,368.5) scale(1.0,1.03)" font-size="33.2" text-anchor="middle" >300</text>
<text transform="translate(786.85,368.5) scale(1.0,1.03)" font-size="33.2" text-anchor="middle" >400</text>
<text transform="translate(879.42,368.5) scale(1.0,1.03)" font-size="33.2" text-anchor="middle" >500</text>
<text transform="translate(972,368.5) scale(1.0,1.03)" font-size="33.2" text-anchor="middle" >600</text>
<text x="787.5" y="396.3" font-size="33.2" text-anchor="middle" >Wavelength (nm)</text>
<text transform="translate(528,204.2) rotate(-90)" x="0" y="0" font-size="33" text-anchor="middle">Intensity (arb. units)</text>
<line x1="608" y1="42.5" x2="637.1" y2="42.5" stroke="#E8353B" stroke-width="3"/>
<line x1="608" y1="74.4" x2="637.1" y2="74.4" stroke="#FF6E72" stroke-width="3"/>
<line x1="791" y1="43.9" x2="820" y2="43.9" stroke="#1E6FD9" stroke-width="3"/>
<line x1="791" y1="75.1" x2="820" y2="75.1" stroke="#3EC3F0" stroke-width="3"/>
<text x="658.7" y="51.9" font-size="26" >Cs-rich EX</text>
<text x="658.7" y="82.6" font-size="26" >Control EX</text>
<text x="841.7" y="52.8" font-size="26" >Cs-rich EM</text>
<text x="841.7" y="83.6" font-size="26" >Control EM</text>
<text transform="translate(634,173.3) scale(1.0,1.02)" font-size="28" >STE-EX</text>
<text transform="translate(701.2,260.4) scale(1.0,1.02)" font-size="28" >CFE-EX</text>
<text x="502" y="33.3" font-size="39" font-weight="bold" >b</text>
<polyline points="1127.7,57.98 1128.44,58.71 1129.19,57.84 1129.93,57.1 1130.67,57.4 1131.42,56.56 1132.16,56.31 1132.9,57.2 1133.65,55.32 1134.39,55.42 1135.13,56.06 1135.88,55.7 1136.62,55.26 1137.37,55.86 1138.11,56.2 1138.85,57.43 1139.6,56.73 1140.34,57.53 1141.08,57.87 1141.83,59.39 1142.57,57.86 1143.31,59.21 1144.06,59.91 1144.8,58.67 1145.54,60.05 1146.29,60.51 1147.03,58.88 1147.77,58.83 1148.52,55.66 1149.26,55.43 1150.01,53.96 1150.75,53.18 1151.49,53.14 1152.24,53.4 1152.98,53.85 1153.72,54.43 1154.47,55.07 1155.21,55.99 1155.95,57.35 1156.7,59.03 1157.44,60.94 1158.18,62.95 1158.93,64.96 1159.67,67.13 1160.41,69.57 1161.16,72.18 1161.9,74.84 1162.64,77.42 1163.39,79.8 1164.13,82.03 1164.88,84.19 1165.62,86.3 1166.36,88.33 1167.11,90.29 1167.85,92.17 1168.59,94.05 1169.34,95.97 1170.08,97.83 1170.82,99.53 1171.57,100.98 1172.31,102.06 1173.05,102.94 1173.8,103.73 1174.54,104.31 1175.28,104.53 1176.03,104.53 1176.77,104.53 1177.51,104.53 1178.26,104.53 1179,104.53 1179.75,104.53 1180.49,104.53 1181.23,104.53 1181.98,104.56 1182.72,104.63 1183.46,104.75 1184.21,104.9 1184.95,105.09 1185.69,105.3 1186.44,105.53 1187.18,105.77 1187.92,106.09 1188.67,106.55 1189.41,107.12 1190.15,107.77 1190.9,108.48 1191.64,109.23 1192.38,109.98 1193.13,110.72 1193.87,111.47 1194.62,112.28 1195.36,113.14 1196.1,114.03 1196.85,114.94 1197.59,115.86 1198.33,116.78 1199.08,117.68 1199.82,118.55 1200.56,119.37 1201.31,120.17 1202.05,120.98 1202.79,121.77 1203.54,122.56 1204.28,123.34 1205.02,124.09 1205.77,124.82 1206.51,125.51 1207.25,126.17 1208,126.79 1208.74,127.38 1209.49,127.95 1210.23,128.51 1210.97,129.04 1211.72,129.56 1212.46,130.05 1213.2,130.52 1213.95,130.95 1214.69,131.36 1215.43,131.74 1216.18,132.08 1216.92,132.39 1217.66,132.67 1218.41,132.94 1219.15,133.19 1219.89,133.43 1220.64,133.66 1221.38,133.89 1222.12,134.13 1222.87,134.38 1223.61,134.65 1224.36,134.93 1225.1,135.25 1225.84,135.58 1226.59,135.94 1227.33,136.31 1228.07,136.7 1228.82,137.11 1229.56,137.56 1230.3,138.05 1231.05,138.58 1231.79,139.15 1232.53,139.79 1233.28,140.51 1234.02,141.34 1234.76,142.28 1235.51,143.37 1236.25,144.65 1236.99,146.33 1237.74,148.39 1238.48,150.77 1239.23,153.37 1239.97,156.12 1240.71,158.94 1241.46,161.92 1242.2,165.18 1242.94,168.69 1243.69,172.41 1244.43,176.3 1245.17,180.33 1245.92,184.47 1246.66,188.76 1247.4,193.46 1248.15,198.46 1248.89,203.59 1249.63,208.72 1250.38,213.67 1251.12,218.29 1251.86,222.68 1252.61,227.02 1253.35,231.26 1254.1,235.38 1254.84,239.34 1255.58,243.1 1256.33,246.63 1257.07,249.95 1257.81,253.22 1258.56,256.41 1259.3,259.41 1260.04,262.15 1260.79,264.54 1261.53,266.51 1262.27,268.2 1263.02,269.78 1263.76,271.23 1264.5,272.54 1265.25,273.69 1265.99,274.65 1266.73,275.42 1267.48,276 1268.22,276.53 1268.97,277.02 1269.71,277.44 1270.45,277.77 1271.2,278.01 1271.94,278.14 1272.68,278.2 1273.43,278.25 1274.17,278.29 1274.91,278.33 1275.66,278.36 1276.4,278.38 1277.14,278.38 1277.89,278.38 1278.63,278.38 1279.37,278.38 1280.12,278.38 1280.86,278.38 1281.6,278.38 1282.35,278.38 1283.09,278.38 1283.84,278.38 1284.58,278.4 1285.32,278.44 1286.07,278.5 1286.81,278.59 1287.55,278.69 1288.3,278.79 1289.04,278.91 1289.78,279.03 1290.53,279.15 1291.27,279.29 1292.01,279.46 1292.76,279.64 1293.5,279.85 1294.24,280.08 1294.99,280.32 1295.73,280.57 1296.47,280.82 1297.22,281.08 1297.96,281.34 1298.71,281.6 1299.45,281.85 1300.19,282.09 1300.94,282.33 1301.68,282.57 1302.42,282.82 1303.17,283.06 1303.91,283.31 1304.65,283.56 1305.4,283.81 1306.14,284.06 1306.88,284.32 1307.63,284.57 1308.37,284.83 1309.11,285.09 1309.86,285.34 1310.6,285.6 1311.34,285.86 1312.09,286.12 1312.83,286.38 1313.58,286.65 1314.32,286.93 1315.06,287.2 1315.81,287.47 1316.55,287.75 1317.29,288.01 1318.04,288.28 1318.78,288.54 1319.52,288.79 1320.27,289.03 1321.01,289.27 1321.75,289.5 1322.5,289.73 1323.24,289.97 1323.98,290.21 1324.73,290.45 1325.47,290.68 1326.21,290.91 1326.96,291.13 1327.7,291.34 1328.45,291.53 1329.19,291.72 1329.93,291.88 1330.68,292.03 1331.42,292.15 1332.16,292.25 1332.91,292.35 1333.65,292.44 1334.39,292.53 1335.14,292.61 1335.88,292.7 1336.62,292.78 1337.37,292.86 1338.11,292.94 1338.85,293.01 1339.6,293.08 1340.34,293.14 1341.08,293.2 1341.83,293.26 1342.57,293.31 1343.32,293.35 1344.06,293.39 1344.8,293.42 1345.55,293.44 1346.29,293.46 1347.03,293.47 1347.78,293.47 1348.52,293.45 1349.26,293.4 1350.01,293.33 1350.75,293.24 1351.49,293.14 1352.24,293.02 1352.98,292.89 1353.72,292.76 1354.47,292.62 1355.21,292.48 1355.95,292.33 1356.7,292.15 1357.44,291.94 1358.18,291.71 1358.93,291.47 1359.67,291.21 1360.42,290.95 1361.16,290.69 1361.9,290.44 1362.65,290.19 1363.39,289.96 1364.13,289.74 1364.88,289.52 1365.62,289.3 1366.36,289.08 1367.11,288.86 1367.85,288.64 1368.59,288.42 1369.34,288.2 1370.08,287.98 1370.82,287.76 1371.57,287.53 1372.31,287.31 1373.06,287.09 1373.8,286.87 1374.54,286.65 1375.29,286.43 1376.03,286.21 1376.77,285.99 1377.52,285.76 1378.26,285.53 1379,285.3 1379.75,285.06 1380.49,284.81 1381.23,284.57 1381.98,284.31 1382.72,284.06 1383.46,283.8 1384.21,283.54 1384.95,283.26 1385.69,282.99 1386.44,282.7 1387.18,282.4 1387.93,282.09 1388.67,281.77 1389.41,281.43 1390.16,281.08 1390.9,280.71 1391.64,280.34 1392.39,279.96 1393.13,279.57 1393.87,279.19 1394.62,278.8 1395.36,278.4 1396.1,277.99 1396.85,277.56 1397.59,277.14 1398.33,276.71 1399.08,276.29 1399.82,275.89 1400.56,275.52 1401.31,275.17 1402.05,274.83 1402.8,274.46 1403.54,274.09 1404.28,273.72 1405.03,273.36 1405.77,273.02 1406.51,272.71 1407.26,272.44 1408,272.22 1408.74,272.06 1409.49,271.97 1410.23,271.96 1410.97,272 1411.72,272.07 1412.46,272.18 1413.2,272.31 1413.95,272.47 1414.69,272.65 1415.43,272.84 1416.18,273.04 1416.92,273.24 1417.66,273.44 1418.41,273.66 1419.15,273.92 1419.9,274.21 1420.64,274.53 1421.38,274.87 1422.13,275.23 1422.87,275.61 1423.61,275.99 1424.36,276.38 1425.1,276.77 1425.84,277.16 1426.59,277.53 1427.33,277.89 1428.07,278.25 1428.82,278.62 1429.56,278.99 1430.3,279.38 1431.05,279.76 1431.79,280.14 1432.54,280.51 1433.28,280.87 1434.02,281.21 1434.77,281.54 1435.51,281.85 1436.25,282.14 1437,282.41 1437.74,282.68 1438.48,282.94 1439.23,283.2 1439.97,283.44 1440.71,283.68 1441.46,283.92 1442.2,284.15 1442.94,284.37 1443.69,284.6 1444.43,284.81 1445.17,285.03 1445.92,285.25 1446.66,285.47 1447.41,285.68 1448.15,285.89 1448.89,286.1 1449.64,286.31 1450.38,286.5 1451.12,286.7 1451.87,286.88 1452.61,287.06 1453.35,287.23 1454.1,287.39 1454.84,287.53 1455.58,287.68 1456.33,287.81 1457.07,287.94 1457.81,288.07 1458.56,288.19 1459.3,288.31 1460.04,288.42 1460.79,288.53 1461.53,288.64 1462.28,288.75 1463.02,288.85 1463.76,288.95 1464.51,289.05 1465.25,289.15 1465.99,289.25 1466.74,289.35 1467.48,289.45 1468.22,289.55 1468.97,289.66 1469.71,289.76 1470.45,289.86 1471.2,289.97 1471.94,290.07 1472.68,290.17 1473.43,290.27 1474.17,290.37 1474.91,290.47 1475.66,290.56 1476.4,290.66 1477.14,290.76 1477.89,290.86 1478.63,290.95 1479.38,291.05 1480.12,291.15 1480.86,291.24 1481.61,291.34 1482.35,291.44 1483.09,291.54 1483.84,291.64 1484.58,291.74 1485.32,291.84 1486.07,291.95 1486.81,292.05 1487.55,292.16 1488.3,292.27 1489.04,292.38 1489.78,292.49 1490.53,292.59 1491.27,292.7 1492.02,292.81 1492.76,292.91 1493.5,293.02 1494.25,293.12 1494.99,293.21 1495.73,293.31 1496.48,293.4 1497.22,293.49 1497.96,293.57 1498.71,293.64 1499.45,293.72" fill="none" stroke="#1E6FD9" stroke-width="3.0" stroke-linejoin="round" stroke-linecap="butt" />
<polyline points="1127.7,175.69 1128.44,174.97 1129.19,172.9 1129.93,172.31 1130.67,168.18 1131.42,166.25 1132.16,164.28 1132.9,161.52 1133.65,159.3 1134.39,158.28 1135.13,156.07 1135.88,153.77 1136.62,151.01 1137.37,149.35 1138.11,149.11 1138.85,147.4 1139.6,144.46 1140.34,142.21 1141.08,141.65 1141.83,140.18 1142.57,136.74 1143.31,135.57 1144.06,132.62 1144.8,129.95 1145.54,128.8 1146.29,127.48 1147.03,125.25 1147.77,124.62 1148.52,122.8 1149.26,121.88 1150.01,120.76 1150.75,120.34 1151.49,119.53 1152.24,119.17 1152.98,118.42 1153.72,118.18 1154.47,117.91 1155.21,117.31 1155.95,120.1 1156.7,118.86 1157.44,121.04 1158.18,122.9 1158.93,123.21 1159.67,124.18 1160.41,124.82 1161.16,127.9 1161.9,128.51 1162.64,130.15 1163.39,132.99 1164.13,134.12 1164.88,134.39 1165.62,135.9 1166.36,137.12 1167.11,138.88 1167.85,140.1 1168.59,141.29 1169.34,142.38 1170.08,143.33 1170.82,144.2 1171.57,144.92 1172.31,145.47 1173.05,145.78 1173.8,145.81 1174.54,145.55 1175.28,145.06 1176.03,144.37 1176.77,143.54 1177.51,142.61 1178.26,141.63 1179,140.38 1179.75,138.68 1180.49,136.62 1181.23,134.29 1181.98,131.8 1182.72,129.25 1183.46,126.72 1184.21,124.32 1184.95,121.96 1185.69,119.51 1186.44,117.01 1187.18,114.48 1187.92,111.94 1188.67,109.41 1189.41,106.94 1190.15,104.53 1190.9,102.13 1191.64,99.69 1192.38,97.28 1193.13,94.97 1193.87,92.83 1194.62,90.93 1195.36,89.23 1196.1,87.63 1196.85,86.13 1197.59,84.73 1198.33,83.43 1199.08,82.22 1199.82,81.1 1200.56,80.08 1201.31,79.15 1202.05,78.27 1202.79,77.43 1203.54,76.59 1204.28,75.74 1205.02,74.86 1205.77,73.93 1206.51,72.99 1207.25,72.03 1208,71.08 1208.74,70.13 1209.49,69.2 1210.23,68.3 1210.97,67.44 1211.72,66.6 1212.46,65.77 1213.2,64.96 1213.95,64.17 1214.69,63.39 1215.43,62.65 1216.18,61.94 1216.92,61.26 1217.66,60.59 1218.41,59.94 1219.15,59.3 1219.89,58.7 1220.64,58.15 1221.38,57.65 1222.12,57.22 1222.87,56.83 1223.61,56.47 1224.36,56.13 1225.1,55.83 1225.84,55.55 1226.59,55.3 1227.33,55.07 1228.07,54.87 1228.82,54.69 1229.56,54.53 1230.3,54.37 1231.05,54.23 1231.79,54.09 1232.53,53.96 1233.28,53.84 1234.02,53.71 1234.76,53.57 1235.51,53.43 1236.25,53.31 1236.99,53.2 1237.74,53.13 1238.48,53.1 1239.23,53.15 1239.97,53.38 1240.71,53.76 1241.46,54.26 1242.2,54.87 1242.94,55.56 1243.69,56.31 1244.43,57.35 1245.17,58.86 1245.92,60.77 1246.66,62.98 1247.4,65.4 1248.15,67.97 1248.89,71.02 1249.63,74.63 1250.38,78.68 1251.12,83.04 1251.86,87.58 1252.61,92.17 1253.35,97.02 1254.1,102.29 1254.84,107.83 1255.58,113.46 1256.33,119.01 1257.07,124.32 1257.81,129.3 1258.56,134.12 1259.3,138.99 1260.04,144.1 1260.79,149.5 1261.53,155.08 1262.27,160.82 1263.02,166.69 1263.76,172.66 1264.5,178.72 1265.25,185.08 1265.99,191.77 1266.73,198.5 1267.48,204.96 1268.22,210.87 1268.97,216.38 1269.71,221.49 1270.45,225.71 1271.2,229.04 1271.94,231.9 1272.68,234.45 1273.43,236.84 1274.17,239.07 1274.91,241.12 1275.66,243.07 1276.4,245 1277.14,246.94 1277.89,248.84 1278.63,250.68 1279.37,252.42 1280.12,254.07 1280.86,255.65 1281.6,257.16 1282.35,258.6 1283.09,259.99 1283.84,261.32 1284.58,262.59 1285.32,263.79 1286.07,264.93 1286.81,266.02 1287.55,267.05 1288.3,268 1289.04,268.9 1289.78,269.77 1290.53,270.55 1291.27,271.21 1292.01,271.79 1292.76,272.34 1293.5,272.84 1294.24,273.28 1294.99,273.65 1295.73,273.93 1296.47,274.17 1297.22,274.4 1297.96,274.61 1298.71,274.77 1299.45,274.88 1300.19,274.92 1300.94,274.91 1301.68,274.87 1302.42,274.81 1303.17,274.74 1303.91,274.66 1304.65,274.58 1305.4,274.5 1306.14,274.43 1306.88,274.37 1307.63,274.31 1308.37,274.25 1309.11,274.19 1309.86,274.13 1310.6,274.07 1311.34,274 1312.09,273.94 1312.83,273.87 1313.58,273.8 1314.32,273.73 1315.06,273.66 1315.81,273.58 1316.55,273.5 1317.29,273.41 1318.04,273.32 1318.78,273.23 1319.52,273.14 1320.27,273.03 1321.01,272.93 1321.75,272.82 1322.5,272.7 1323.24,272.56 1323.98,272.39 1324.73,272.21 1325.47,272 1326.21,271.79 1326.96,271.57 1327.7,271.36 1328.45,271.15 1329.19,270.96 1329.93,270.79 1330.68,270.65 1331.42,270.53 1332.16,270.46 1332.91,270.4 1333.65,270.35 1334.39,270.3 1335.14,270.25 1335.88,270.21 1336.62,270.17 1337.37,270.14 1338.11,270.11 1338.85,270.08 1339.6,270.05 1340.34,270.02 1341.08,270 1341.83,269.98 1342.57,269.96 1343.32,269.94 1344.06,269.92 1344.8,269.91 1345.55,269.89 1346.29,269.88 1347.03,269.87 1347.78,269.86 1348.52,269.85 1349.26,269.83 1350.01,269.82 1350.75,269.8 1351.49,269.78 1352.24,269.75 1352.98,269.72 1353.72,269.67 1354.47,269.59 1355.21,269.49 1355.95,269.37 1356.7,269.23 1357.44,269.08 1358.18,268.92 1358.93,268.75 1359.67,268.58 1360.42,268.41 1361.16,268.25 1361.9,268.08 1362.65,267.9 1363.39,267.71 1364.13,267.52 1364.88,267.32 1365.62,267.11 1366.36,266.89 1367.11,266.67 1367.85,266.45 1368.59,266.22 1369.34,266 1370.08,265.77 1370.82,265.54 1371.57,265.31 1372.31,265.06 1373.06,264.82 1373.8,264.57 1374.54,264.31 1375.29,264.06 1376.03,263.8 1376.77,263.55 1377.52,263.3 1378.26,263.06 1379,262.82 1379.75,262.6 1380.49,262.37 1381.23,262.13 1381.98,261.88 1382.72,261.62 1383.46,261.33 1384.21,261.01 1384.95,260.67 1385.69,260.3 1386.44,259.92 1387.18,259.5 1387.93,259.06 1388.67,258.59 1389.41,258.08 1390.16,257.54 1390.9,256.96 1391.64,256.34 1392.39,255.67 1393.13,254.92 1393.87,253.99 1394.62,252.9 1395.36,251.71 1396.1,250.46 1396.85,249.2 1397.59,247.88 1398.33,246.44 1399.08,244.94 1399.82,243.42 1400.56,241.94 1401.31,240.55 1402.05,239.18 1402.8,237.79 1403.54,236.4 1404.28,235.04 1405.03,233.76 1405.77,232.58 1406.51,231.53 1407.26,230.66 1408,229.87 1408.74,229.08 1409.49,228.31 1410.23,227.59 1410.97,226.96 1411.72,226.42 1412.46,226.02 1413.2,225.77 1413.95,225.71 1414.69,225.87 1415.43,226.22 1416.18,226.72 1416.92,227.33 1417.66,228.01 1418.41,228.72 1419.15,229.42 1419.9,230.17 1420.64,231.03 1421.38,232 1422.13,233.05 1422.87,234.18 1423.61,235.36 1424.36,236.63 1425.1,238.06 1425.84,239.61 1426.59,241.26 1427.33,242.95 1428.07,244.66 1428.82,246.34 1429.56,247.97 1430.3,249.57 1431.05,251.21 1431.79,252.87 1432.54,254.52 1433.28,256.15 1434.02,257.74 1434.77,259.28 1435.51,260.74 1436.25,262.11 1437,263.43 1437.74,264.73 1438.48,265.98 1439.23,267.2 1439.97,268.38 1440.71,269.52 1441.46,270.62 1442.2,271.68 1442.94,272.7 1443.69,273.69 1444.43,274.68 1445.17,275.64 1445.92,276.58 1446.66,277.48 1447.41,278.33 1448.15,279.12 1448.89,279.84 1449.64,280.49 1450.38,281.07 1451.12,281.63 1451.87,282.16 1452.61,282.65 1453.35,283.11 1454.1,283.54 1454.84,283.92 1455.58,284.27 1456.33,284.57 1457.07,284.84 1457.81,285.1 1458.56,285.34 1459.3,285.58 1460.04,285.79 1460.79,285.98 1461.53,286.16 1462.28,286.31 1463.02,286.44 1463.76,286.55 1464.51,286.63 1465.25,286.72 1465.99,286.79 1466.74,286.86 1467.48,286.93 1468.22,286.99 1468.97,287.05 1469.71,287.11 1470.45,287.16 1471.2,287.21 1471.94,287.26 1472.68,287.3 1473.43,287.34 1474.17,287.38 1474.91,287.42 1475.66,287.46 1476.4,287.5 1477.14,287.53 1477.89,287.57 1478.63,287.61 1479.38,287.65 1480.12,287.69 1480.86,287.73 1481.61,287.77 1482.35,287.8 1483.09,287.84 1483.84,287.88 1484.58,287.92 1485.32,287.95 1486.07,287.99 1486.81,288.02 1487.55,288.05 1488.3,288.08 1489.04,288.11 1489.78,288.14 1490.53,288.16 1491.27,288.19 1492.02,288.21 1492.76,288.22 1493.5,288.24 1494.25,288.25 1494.99,288.26 1495.73,288.27 1496.48,288.28 1497.22,288.28 1497.96,288.28 1498.71,288.28 1499.45,288.28" fill="none" stroke="#E8353B" stroke-width="3.0" stroke-linejoin="round" stroke-linecap="butt" />
<rect x="1128.7" y="28.3" width="370" height="296.3" fill="none" stroke="#000" stroke-width="2.9"/>
<line x1="1113.7" y1="299.9" x2="1128.7" y2="299.9" stroke="#000" stroke-width="2.9"/>
<line x1="1113.7" y1="250.44" x2="1128.7" y2="250.44" stroke="#000" stroke-width="2.9"/>
<line x1="1113.7" y1="200.98" x2="1128.7" y2="200.98" stroke="#000" stroke-width="2.9"/>
<line x1="1113.7" y1="151.52" x2="1128.7" y2="151.52" stroke="#000" stroke-width="2.9"/>
<line x1="1113.7" y1="102.06" x2="1128.7" y2="102.06" stroke="#000" stroke-width="2.9"/>
<line x1="1113.7" y1="52.6" x2="1128.7" y2="52.6" stroke="#000" stroke-width="2.9"/>
<line x1="1121.2" y1="324.63" x2="1128.7" y2="324.63" stroke="#000" stroke-width="2.9"/>
<line x1="1121.2" y1="275.17" x2="1128.7" y2="275.17" stroke="#000" stroke-width="2.9"/>
<line x1="1121.2" y1="225.71" x2="1128.7" y2="225.71" stroke="#000" stroke-width="2.9"/>
<line x1="1121.2" y1="176.25" x2="1128.7" y2="176.25" stroke="#000" stroke-width="2.9"/>
<line x1="1121.2" y1="126.79" x2="1128.7" y2="126.79" stroke="#000" stroke-width="2.9"/>
<line x1="1121.2" y1="77.33" x2="1128.7" y2="77.33" stroke="#000" stroke-width="2.9"/>
<line x1="1121.2" y1="27.87" x2="1128.7" y2="27.87" stroke="#000" stroke-width="2.9"/>
<line x1="1127.7" y1="324.6" x2="1127.7" y2="339.6" stroke="#000" stroke-width="2.9"/>
<line x1="1276.4" y1="324.6" x2="1276.4" y2="339.6" stroke="#000" stroke-width="2.9"/>
<line x1="1425.1" y1="324.6" x2="1425.1" y2="339.6" stroke="#000" stroke-width="2.9"/>
<line x1="1202.05" y1="324.6" x2="1202.05" y2="332.1" stroke="#000" stroke-width="2.9"/>
<line x1="1350.75" y1="324.6" x2="1350.75" y2="332.1" stroke="#000" stroke-width="2.9"/>
<line x1="1499.45" y1="324.6" x2="1499.45" y2="332.1" stroke="#000" stroke-width="2.9"/>
<text transform="translate(1111,309.1) scale(1.0,1.03)" font-size="29" text-anchor="end" >0.0</text>
<text transform="translate(1111,259.64) scale(1.0,1.03)" font-size="29" text-anchor="end" >0.2</text>
<text transform="translate(1111,210.18) scale(1.0,1.03)" font-size="29" text-anchor="end" >0.4</text>
<text transform="translate(1111,160.72) scale(1.0,1.03)" font-size="29" text-anchor="end" >0.6</text>
<text transform="translate(1111,111.26) scale(1.0,1.03)" font-size="29" text-anchor="end" >0.8</text>
<text transform="translate(1111,61.8) scale(1.0,1.03)" font-size="29" text-anchor="end" >1.0</text>
<text transform="translate(1127.7,363.7) scale(1.0,1.03)" font-size="29" text-anchor="middle" >200</text>
<text transform="translate(1276.4,363.7) scale(1.0,1.03)" font-size="29" text-anchor="middle" >300</text>
<text transform="translate(1425.1,363.7) scale(1.0,1.03)" font-size="29" text-anchor="middle" >400</text>
<text x="1301.3" y="397" font-size="33.4" text-anchor="middle" >Wavelength (nm)</text>
<text transform="translate(1053,193.4) rotate(-90)" x="0" y="0" font-size="32.6" text-anchor="middle">Intensity (arb. units)</text>
<line x1="1352" y1="43.6" x2="1410" y2="43.6" stroke="#1E6FD9" stroke-width="3"/>
<line x1="1352" y1="75.3" x2="1410" y2="75.3" stroke="#E8353B" stroke-width="3"/>
<text x="1416.6" y="52.7" font-size="26" >Cs-rich</text>
<text x="1416.6" y="84.2" font-size="26" >control</text>
<text x="1044" y="33.4" font-size="40" font-weight="bold" >c</text>
<polyline points="79.5,553.3 80.61,553.3 81.71,553.3 82.82,553.3 83.92,553.3 85.03,553.3 86.13,553.3 87.24,553.29 88.34,553.29 89.45,553.29 90.55,553.29 91.66,553.29 92.76,553.28 93.87,553.28 94.97,553.28 96.08,553.27 97.18,553.27 98.29,553.27 99.39,553.26 100.5,553.26 101.6,553.25 102.71,553.25 103.81,553.25 104.92,553.24 106.02,553.24 107.13,553.23 108.23,553.22 109.34,553.22 110.44,553.21 111.55,553.21 112.65,553.2 113.76,553.19 114.86,553.18 115.97,553.17 117.07,553.15 118.18,553.13 119.28,553.11 120.39,553.09 121.49,553.06 122.6,553.03 123.7,553 124.81,552.96 125.91,552.9 127.02,552.84 128.12,552.75 129.23,552.66 130.33,552.55 131.44,552.43 132.54,552.3 133.65,552.13 134.75,551.9 135.86,551.63 136.96,551.31 138.06,551.2 139.17,550.79 140.28,549.79 141.38,549.84 142.49,548.6 143.59,548.71 144.7,548.42 145.8,548.09 146.91,547.02 148.01,546.82 149.12,546.33 150.22,545.08 151.33,544.39 152.43,542.97 153.54,542.3 154.64,542.06 155.75,539.45 156.85,538.96 157.96,536.12 159.06,534.11 160.17,532.76 161.27,530.7 162.38,528.34 163.48,525.04 164.59,522.88 165.69,520.49 166.8,517.7 167.9,514.07 169,511.79 170.11,508.73 171.22,505.83 172.32,502.94 173.43,500.19 174.53,498.07 175.64,495.18 176.74,492.66 177.85,489.97 178.95,486.68 180.06,484.64 181.16,481.93 182.27,479.53 183.37,476.81 184.48,473.68 185.58,471.6 186.69,469.36 187.79,467.13 188.9,465.48 190,463.83 191.11,462.68 192.21,462.22 193.31,460.58 194.42,460.01 195.53,459.25 196.63,459.42 197.74,457.87 198.84,458.97 199.94,458.26 201.05,458.7 202.16,459.27 203.26,459.32 204.37,460.28 205.47,461.62 206.58,461.94 207.68,462.33 208.79,462.82 209.89,465.37 211,466.18 212.1,467.23 213.21,469.33 214.31,471.61 215.42,473.93 216.52,475.92 217.62,477.33 218.73,478.95 219.84,481.34 220.94,482.88 222.05,483.94 223.15,485.98 224.25,487.94 225.36,489.73 226.47,491.86 227.57,493.27 228.68,495.04 229.78,496.86 230.88,499.25 231.99,501.04 233.1,502.52 234.2,504.13 235.31,505.89 236.41,507.59 237.52,509.77 238.62,511.56 239.73,512.04 240.83,513.64 241.94,514.88 243.04,516.38 244.15,517.65 245.25,517.72 246.36,518.93 247.46,520.17 248.56,520.28 249.67,520.91 250.78,521.4 251.88,521.31 252.99,522.54 254.09,523.3 255.19,523.04 256.3,523.33 257.41,522.87 258.51,522.9 259.62,522.72 260.72,522.88 261.82,522.35 262.93,522.48 264.04,521.86 265.14,521.79 266.25,521.65 267.35,520.61 268.46,520.54 269.56,519.29 270.67,519.13 271.77,518.56 272.88,518.09 273.98,517.53 275.09,517.75 276.19,515.9 277.3,516.08 278.4,514.96 279.5,515 280.61,514.32 281.72,513.85 282.82,513.66 283.93,512.91 285.03,512.28 286.13,512.24 287.24,512.24 288.35,511.74 289.45,511.19 290.56,510.62 291.66,510.48 292.76,510.45 293.87,510.7 294.98,509.86 296.08,510.04 297.19,510.04 298.29,509.59 299.39,509.7 300.5,509.85 301.61,510.62 302.71,510.69 303.81,511.39 304.92,511.09 306.02,511.54 307.13,511.64 308.24,512.31 309.34,512.93 310.45,512.51 311.55,514.12 312.65,514.81 313.76,515.17 314.87,515.44 315.97,516.43 317.08,517.16 318.18,518.09 319.28,517.88 320.39,519.29 321.5,520.14 322.6,520.52 323.71,521.48 324.81,522.02 325.92,522.22 327.02,523.59 328.12,524.21 329.23,525.07 330.34,525.74 331.44,526.11 332.55,526.92 333.65,527.92 334.75,528.8 335.86,529.21 336.97,529.55 338.07,530.52 339.18,531.22 340.28,532.47 341.38,532.13 342.49,533.63 343.6,534.17 344.7,534.44 345.81,534.86 346.91,535.39 348.01,536.19 349.12,536.54 350.23,537.14 351.33,538.04 352.44,537.97 353.54,538.58 354.64,538.63 355.75,539.26 356.86,539.29 357.96,539.79 359.06,540.11 360.17,540.38 361.27,540.93 362.38,541.59 363.49,541.42 364.59,542.56 365.7,542.59 366.8,542.61 367.9,543.33 369.01,543.28 370.12,544.11 371.22,544.29 372.33,544.17 373.43,544.35 374.53,544.41 375.64,545.07 376.75,545.16 377.85,545.25 378.96,545.5 380.06,546.32 381.17,546.25 382.27,545.72 383.38,546.84 384.48,546.36 385.59,546.89 386.69,546.55 387.8,547.33 388.9,547.2 390,548.08 391.11,547.53 392.22,547.28 393.32,548.33 394.43,547.53 395.53,548.33 396.63,548.24 397.74,549.33 398.85,548.12 399.95,548.94 401.06,548.95 402.16,549.34 403.26,549.36 404.37,548.73 405.48,549.43 406.58,549.05 407.69,549.53 408.79,549.45 409.89,549.84 411,549.6 412.11,548.92 413.21,549.67 414.31,549.79 415.42,550.2 416.53,549.74 417.63,549.68 418.74,550.81 419.84,550.76 420.94,549.6 422.05,550.24 423.16,550.39 424.26,550.29 425.37,550.16 426.47,550.31 427.57,550.71 428.68,549.96 429.79,550.72 430.89,551.07 432,551 433.1,550.9 434.2,551.02 435.31,550.99 436.42,550.85 437.52,552.15 438.62,551.31 439.73,550.74 440.83,550.91 441.94,551.37 443.05,551.39 444.15,550.8 445.25,551.32 446.36,551.45 447.47,550.64 448.57,551.32 449.68,551.35 450.78,551.38 451.88,551.41 452.99,551.44 454.1,551.47 455.2,551.49 456.31,551.52 457.41,551.55 458.51,551.57 459.62,551.6 460.73,551.62 461.83,551.65 462.94,551.67 464.04,551.69 465.14,551.72 466.25,551.74 467.36,551.76 468.46,551.78 469.56,551.8 470.67,551.81 471.78,551.83 472.88,551.85 473.99,551.86 475.09,551.88 476.19,551.89 477.3,551.9" fill="none" stroke="#E8353B" stroke-width="3.0" stroke-linejoin="round" stroke-linecap="butt" />
<polyline points="79.5,552.87 80.61,552.85 81.71,552.84 82.82,552.82 83.92,552.81 85.03,552.79 86.13,552.78 87.24,552.76 88.34,552.74 89.45,552.72 90.55,552.71 91.66,552.69 92.76,552.67 93.87,552.65 94.97,552.63 96.08,552.61 97.18,552.59 98.29,552.57 99.39,552.54 100.5,552.52 101.6,552.5 102.71,552.48 103.81,552.45 104.92,552.43 106.02,552.4 107.13,552.37 108.23,552.35 109.34,552.32 110.44,552.29 111.55,552.26 112.65,552.24 113.76,552.21 114.86,552.17 115.97,552.14 117.07,552.11 118.18,552.08 119.28,552.05 120.39,552.01 121.49,551.98 122.6,551.94 123.7,551.9 124.81,551.87 125.91,551.83 127.02,551.79 128.12,551.75 129.23,551.71 130.33,551.67 131.44,551.63 132.54,551.58 133.65,551.54 134.75,551.5 135.86,551.45 136.96,551.4 138.06,551.36 139.17,551.31 140.28,551.26 141.38,551.21 142.49,551.16 143.59,551.11 144.7,551.05 145.8,551 146.91,550.95 148.01,550.89 149.12,550.83 150.22,550.78 151.33,550.72 152.43,550.66 153.54,550.6 154.64,550.54 155.75,550.48 156.85,550.41 157.96,550.35 159.06,550.28 160.17,550.22 161.27,550.15 162.38,550.08 163.48,550.01 164.59,549.94 165.69,549.87 166.8,549.8 167.9,549.72 169,549.65 170.11,549.57 171.22,549.5 172.32,549.42 173.43,549.34 174.53,549.26 175.64,549.18 176.74,549.1 177.85,549.02 178.95,548.93 180.06,548.85 181.16,548.76 182.27,548.67 183.37,548.59 184.48,548.5 185.58,548.41 186.69,548.32 187.79,548.23 188.9,548.13 190,548.04 191.11,547.95 192.21,547.85 193.31,547.75 194.42,547.66 195.53,547.56 196.63,547.46 197.74,547.36 198.84,547.26 199.94,547.16 201.05,547.06 202.16,546.95 203.26,546.85 204.37,546.75 205.47,546.64 206.58,546.53 207.68,546.43 208.79,546.32 209.89,546.21 211,546.1 212.1,545.99 213.21,545.88 214.31,545.77 215.42,545.66 216.52,545.55 217.62,545.44 218.73,545.32 219.84,545.21 220.94,545.1 222.05,544.98 223.15,544.87 224.25,544.75 225.36,544.64 226.47,544.52 227.57,544.41 228.68,544.29 229.78,544.17 230.88,544.06 231.99,543.94 233.1,543.82 234.2,543.71 235.31,543.59 236.41,543.47 237.52,543.36 238.62,543.24 239.73,543.12 240.83,543.01 241.94,542.89 243.04,542.77 244.15,542.66 245.25,542.54 246.36,542.43 247.46,542.31 248.56,542.2 249.67,542.08 250.78,541.97 251.88,541.85 252.99,541.74 254.09,541.63 255.19,541.51 256.3,541.4 257.41,541.29 258.51,541.18 259.62,541.07 260.72,540.96 261.82,540.85 262.93,540.75 264.04,540.64 265.14,540.54 266.25,540.43 267.35,540.33 268.46,540.23 269.56,540.12 270.67,540.02 271.77,539.92 272.88,539.83 273.98,539.73 275.09,539.63 276.19,539.54 277.3,539.45 278.4,539.36 279.5,539.27 280.61,539.18 281.72,539.09 282.82,539 283.93,538.92 285.03,538.84 286.13,538.76 287.24,538.68 288.35,538.6 289.45,538.52 290.56,538.45 291.66,538.37 292.76,538.3 293.87,538.23 294.98,538.17 296.08,538.1 297.19,538.04 298.29,537.98 299.39,537.92 300.5,537.86 301.61,537.8 302.71,537.75 303.81,537.7 304.92,537.65 306.02,537.6 307.13,537.55 308.24,537.51 309.34,537.47 310.45,537.43 311.55,537.39 312.65,537.36 313.76,537.32 314.87,537.29 315.97,537.26 317.08,537.24 318.18,537.21 319.28,537.19 320.39,537.17 321.5,537.16 322.6,537.14 323.71,537.13 324.81,537.12 325.92,537.11 327.02,537.1 328.12,537.1 329.23,537.1 330.34,537.1 331.44,537.1 332.55,537.11 333.65,537.12 334.75,537.13 335.86,537.14 336.97,537.16 338.07,537.17 339.18,537.19 340.28,537.21 341.38,537.24 342.49,537.26 343.6,537.29 344.7,537.32 345.81,537.36 346.91,537.39 348.01,537.43 349.12,537.47 350.23,537.51 351.33,537.55 352.44,537.6 353.54,537.65 354.64,537.7 355.75,537.75 356.86,537.8 357.96,537.86 359.06,537.92 360.17,537.98 361.27,538.04 362.38,538.1 363.49,538.17 364.59,538.23 365.7,538.3 366.8,538.37 367.9,538.45 369.01,538.52 370.12,538.6 371.22,538.68 372.33,538.76 373.43,538.84 374.53,538.92 375.64,539 376.75,539.09 377.85,539.18 378.96,539.27 380.06,539.36 381.17,539.45 382.27,539.54 383.38,539.63 384.48,539.73 385.59,539.83 386.69,539.92 387.8,540.02 388.9,540.12 390,540.23 391.11,540.33 392.22,540.43 393.32,540.54 394.43,540.64 395.53,540.75 396.63,540.85 397.74,540.96 398.85,541.07 399.95,541.18 401.06,541.29 402.16,541.4 403.26,541.51 404.37,541.63 405.48,541.74 406.58,541.85 407.69,541.97 408.79,542.08 409.89,542.2 411,542.31 412.11,542.43 413.21,542.54 414.31,542.66 415.42,542.77 416.53,542.89 417.63,543.01 418.74,543.12 419.84,543.24 420.94,543.36 422.05,543.47 423.16,543.59 424.26,543.71 425.37,543.82 426.47,543.94 427.57,544.06 428.68,544.17 429.79,544.29 430.89,544.41 432,544.52 433.1,544.64 434.2,544.75 435.31,544.87 436.42,544.98 437.52,545.1 438.62,545.21 439.73,545.32 440.83,545.44 441.94,545.55 443.05,545.66 444.15,545.77 445.25,545.88 446.36,545.99 447.47,546.1 448.57,546.21 449.68,546.32 450.78,546.43 451.88,546.53 452.99,546.64 454.1,546.75 455.2,546.85 456.31,546.95 457.41,547.06 458.51,547.16 459.62,547.26 460.73,547.36 461.83,547.46 462.94,547.56 464.04,547.66 465.14,547.75 466.25,547.85 467.36,547.95 468.46,548.04 469.56,548.13 470.67,548.23 471.78,548.32 472.88,548.41 473.99,548.5 475.09,548.59 476.19,548.67 477.3,548.76" fill="none" stroke="#1E6FD9" stroke-width="3.0" stroke-linejoin="round" stroke-linecap="butt" />
<polyline points="79.5,701.2 80.61,701.2 81.71,701.2 82.82,701.2 83.92,701.2 85.03,701.2 86.13,701.2 87.24,701.2 88.34,701.2 89.45,701.2 90.55,701.2 91.66,701.2 92.76,701.2 93.87,701.2 94.97,701.2 96.08,701.2 97.18,701.2 98.29,701.2 99.39,701.2 100.5,701.2 101.6,701.2 102.71,701.2 103.81,701.19 104.92,701.18 106.02,701.16 107.13,701.14 108.23,701.11 109.34,701.08 110.44,701.05 111.55,701.02 112.65,700.98 113.76,700.94 114.86,700.9 115.97,700.85 117.07,700.79 118.18,700.71 119.28,700.63 120.39,700.53 121.49,700.43 122.6,700.31 123.7,700.2 124.81,700.07 125.91,699.92 127.02,699.76 128.12,699.58 129.23,699.39 130.33,699.2 131.44,699.01 132.54,698.81 133.65,698.61 134.75,698.38 135.86,698.11 136.96,697.8 138.06,697.4 139.17,696.89 140.28,696.29 141.38,695.62 142.49,694.89 143.59,694.12 144.7,693.3 145.8,692.37 146.91,691.34 148.01,690.23 149.12,689.04 150.22,687.8 151.33,686.5 152.43,685.12 153.54,683.67 154.64,682.15 155.75,680.55 156.85,678.87 157.96,677.13 159.06,675.31 160.17,673.41 161.27,671.33 162.38,669.07 163.48,666.69 164.59,664.24 165.69,661.8 166.8,659.36 167.9,656.87 169,654.34 170.11,651.78 171.22,649.17 172.32,646.54 173.43,643.86 174.53,641.04 175.64,638.11 176.74,635.18 177.85,632.37 178.95,629.8 180.06,627.41 181.16,625.08 182.27,622.84 183.37,620.71 184.48,618.69 185.58,616.82 186.69,615.1 187.79,613.47 188.9,611.9 190,610.47 191.11,609.24 192.21,608.3 193.31,607.52 194.42,606.8 195.53,606.22 196.63,605.86 197.74,605.82 198.84,606.03 199.94,606.44 201.05,606.98 202.16,607.62 203.26,608.3 204.37,609.15 205.47,610.29 206.58,611.65 207.68,613.18 208.79,614.81 209.89,616.48 211,618.13 212.1,619.93 213.21,621.89 214.31,623.92 215.42,625.92 216.52,627.8 217.62,629.53 218.73,631.17 219.84,632.77 220.94,634.35 222.05,635.97 223.15,637.67 224.25,639.48 225.36,641.51 226.47,643.69 227.57,645.89 228.68,647.97 229.78,649.8 230.88,651.41 231.99,652.93 233.1,654.37 234.2,655.72 235.31,656.99 236.41,658.19 237.52,659.32 238.62,660.42 239.73,661.5 240.83,662.52 241.94,663.49 243.04,664.36 244.15,665.14 245.25,665.8 246.36,666.4 247.46,667 248.56,667.58 249.67,668.09 250.78,668.52 251.88,668.83 252.99,668.99 254.09,668.99 255.19,668.94 256.3,668.86 257.41,668.74 258.51,668.61 259.62,668.46 260.72,668.3 261.82,668.09 262.93,667.8 264.04,667.44 265.14,667.03 266.25,666.59 267.35,666.13 268.46,665.67 269.56,665.23 270.67,664.82 271.77,664.46 272.88,664.14 273.98,663.81 275.09,663.48 276.19,663.16 277.3,662.88 278.4,662.63 279.5,662.43 280.61,662.3 281.72,662.21 282.82,662.13 283.93,662.05 285.03,661.98 286.13,661.92 287.24,661.87 288.35,661.84 289.45,661.81 290.56,661.8 291.66,661.83 292.76,661.92 293.87,662.08 294.98,662.3 296.08,662.55 297.19,662.84 298.29,663.15 299.39,663.48 300.5,663.8 301.61,664.16 302.71,664.59 303.81,665.09 304.92,665.64 306.02,666.23 307.13,666.86 308.24,667.51 309.34,668.18 310.45,668.86 311.55,669.53 312.65,670.21 313.76,670.94 314.87,671.73 315.97,672.54 317.08,673.37 318.18,674.21 319.28,675.03 320.39,675.83 321.5,676.59 322.6,677.3 323.71,677.96 324.81,678.58 325.92,679.19 327.02,679.77 328.12,680.35 329.23,680.91 330.34,681.48 331.44,682.05 332.55,682.63 333.65,683.22 334.75,683.84 335.86,684.49 336.97,685.16 338.07,685.82 339.18,686.49 340.28,687.13 341.38,687.74 342.49,688.31 343.6,688.84 344.7,689.3 345.81,689.72 346.91,690.12 348.01,690.5 349.12,690.86 350.23,691.21 351.33,691.54 352.44,691.86 353.54,692.16 354.64,692.46 355.75,692.74 356.86,693.02 357.96,693.29 359.06,693.55 360.17,693.8 361.27,694.05 362.38,694.28 363.49,694.51 364.59,694.73 365.7,694.94 366.8,695.15 367.9,695.35 369.01,695.55 370.12,695.74 371.22,695.93 372.33,696.11 373.43,696.3 374.53,696.49 375.64,696.68 376.75,696.88 377.85,697.08 378.96,697.28 380.06,697.46 381.17,697.64 382.27,697.81 383.38,697.96 384.48,698.1 385.59,698.21 386.69,698.3 387.8,698.37 388.9,698.45 390,698.51 391.11,698.58 392.22,698.64 393.32,698.7 394.43,698.76 395.53,698.82 396.63,698.87 397.74,698.92 398.85,698.96 399.95,699.01 401.06,699.05 402.16,699.09 403.26,699.12 404.37,699.16 405.48,699.19 406.58,699.22 407.69,699.24 408.79,699.26 409.89,699.28 411,699.3 412.11,699.32 413.21,699.33 414.31,699.35 415.42,699.36 416.53,699.38 417.63,699.39 418.74,699.4 419.84,699.42 420.94,699.43 422.05,699.45 423.16,699.46 424.26,699.47 425.37,699.49 426.47,699.5 427.57,699.51 428.68,699.52 429.79,699.54 430.89,699.55 432,699.56 433.1,699.57 434.2,699.58 435.31,699.59 436.42,699.6 437.52,699.61 438.62,699.62 439.73,699.63 440.83,699.64 441.94,699.65 443.05,699.66 444.15,699.67 445.25,699.68 446.36,699.68 447.47,699.69 448.57,699.7 449.68,699.71 450.78,699.71 451.88,699.72 452.99,699.73 454.1,699.73 455.2,699.74 456.31,699.75 457.41,699.75 458.51,699.76 459.62,699.76 460.73,699.77 461.83,699.77 462.94,699.77 464.04,699.78 465.14,699.78 466.25,699.78 467.36,699.79 468.46,699.79 469.56,699.79 470.67,699.79 471.78,699.8 472.88,699.8 473.99,699.8 475.09,699.8 476.19,699.8 477.3,699.8" fill="none" stroke="#E8353B" stroke-width="3.0" stroke-linejoin="round" stroke-linecap="butt" />
<polyline points="79.5,699.69 80.61,699.69 81.71,699.68 82.82,699.67 83.92,699.66 85.03,699.65 86.13,699.64 87.24,699.63 88.34,699.62 89.45,699.61 90.55,699.6 91.66,699.59 92.76,699.57 93.87,699.56 94.97,699.55 96.08,699.53 97.18,699.52 98.29,699.5 99.39,699.48 100.5,699.46 101.6,699.44 102.71,699.42 103.81,699.4 104.92,699.38 106.02,699.35 107.13,699.33 108.23,699.3 109.34,699.28 110.44,699.25 111.55,699.22 112.65,699.19 113.76,699.15 114.86,699.12 115.97,699.08 117.07,699.05 118.18,699.01 119.28,698.97 120.39,698.93 121.49,698.88 122.6,698.84 123.7,698.79 124.81,698.74 125.91,698.69 127.02,698.64 128.12,698.58 129.23,698.52 130.33,698.46 131.44,698.4 132.54,698.34 133.65,698.27 134.75,698.2 135.86,698.13 136.96,698.05 138.06,697.98 139.17,697.9 140.28,697.82 141.38,697.73 142.49,697.64 143.59,697.55 144.7,697.46 145.8,697.36 146.91,697.27 148.01,697.16 149.12,697.06 150.22,696.95 151.33,696.84 152.43,696.73 153.54,696.61 154.64,696.49 155.75,696.36 156.85,696.24 157.96,696.11 159.06,695.97 160.17,695.84 161.27,695.7 162.38,695.56 163.48,695.41 164.59,695.26 165.69,695.11 166.8,694.95 167.9,694.8 169,694.63 170.11,694.47 171.22,694.3 172.32,694.13 173.43,693.96 174.53,693.78 175.64,693.6 176.74,693.42 177.85,693.23 178.95,693.04 180.06,692.85 181.16,692.66 182.27,692.47 183.37,692.27 184.48,692.07 185.58,691.87 186.69,691.66 187.79,691.46 188.9,691.25 190,691.04 191.11,690.83 192.21,690.61 193.31,690.4 194.42,690.19 195.53,689.97 196.63,689.75 197.74,689.54 198.84,689.32 199.94,689.1 201.05,688.88 202.16,688.66 203.26,688.45 204.37,688.23 205.47,688.01 206.58,687.79 207.68,687.58 208.79,687.36 209.89,687.15 211,686.94 212.1,686.73 213.21,686.52 214.31,686.32 215.42,686.11 216.52,685.91 217.62,685.71 218.73,685.52 219.84,685.32 220.94,685.13 222.05,684.95 223.15,684.77 224.25,684.59 225.36,684.41 226.47,684.24 227.57,684.08 228.68,683.92 229.78,683.76 230.88,683.61 231.99,683.46 233.1,683.32 234.2,683.18 235.31,683.05 236.41,682.93 237.52,682.81 238.62,682.7 239.73,682.59 240.83,682.49 241.94,682.4 243.04,682.31 244.15,682.23 245.25,682.16 246.36,682.09 247.46,682.03 248.56,681.98 249.67,681.93 250.78,681.89 251.88,681.86 252.99,681.83 254.09,681.81 255.19,681.8 256.3,681.8 257.41,681.8 258.51,681.81 259.62,681.83 260.72,681.86 261.82,681.89 262.93,681.93 264.04,681.98 265.14,682.03 266.25,682.09 267.35,682.16 268.46,682.23 269.56,682.31 270.67,682.4 271.77,682.49 272.88,682.59 273.98,682.7 275.09,682.81 276.19,682.93 277.3,683.05 278.4,683.18 279.5,683.32 280.61,683.46 281.72,683.61 282.82,683.76 283.93,683.92 285.03,684.08 286.13,684.24 287.24,684.41 288.35,684.59 289.45,684.77 290.56,684.95 291.66,685.13 292.76,685.32 293.87,685.52 294.98,685.71 296.08,685.91 297.19,686.11 298.29,686.32 299.39,686.52 300.5,686.73 301.61,686.94 302.71,687.15 303.81,687.36 304.92,687.58 306.02,687.79 307.13,688.01 308.24,688.23 309.34,688.45 310.45,688.66 311.55,688.88 312.65,689.1 313.76,689.32 314.87,689.54 315.97,689.75 317.08,689.97 318.18,690.19 319.28,690.4 320.39,690.61 321.5,690.83 322.6,691.04 323.71,691.25 324.81,691.46 325.92,691.66 327.02,691.87 328.12,692.07 329.23,692.27 330.34,692.47 331.44,692.66 332.55,692.85 333.65,693.04 334.75,693.23 335.86,693.42 336.97,693.6 338.07,693.78 339.18,693.96 340.28,694.13 341.38,694.3 342.49,694.47 343.6,694.63 344.7,694.8 345.81,694.95 346.91,695.11 348.01,695.26 349.12,695.41 350.23,695.56 351.33,695.7 352.44,695.84 353.54,695.97 354.64,696.11 355.75,696.24 356.86,696.36 357.96,696.49 359.06,696.61 360.17,696.73 361.27,696.84 362.38,696.95 363.49,697.06 364.59,697.16 365.7,697.27 366.8,697.36 367.9,697.46 369.01,697.55 370.12,697.64 371.22,697.73 372.33,697.82 373.43,697.9 374.53,697.98 375.64,698.05 376.75,698.13 377.85,698.2 378.96,698.27 380.06,698.34 381.17,698.4 382.27,698.46 383.38,698.52 384.48,698.58 385.59,698.64 386.69,698.69 387.8,698.74 388.9,698.79 390,698.84 391.11,698.88 392.22,698.93 393.32,698.97 394.43,699.01 395.53,699.05 396.63,699.08 397.74,699.12 398.85,699.15 399.95,699.19 401.06,699.22 402.16,699.25 403.26,699.28 404.37,699.3 405.48,699.33 406.58,699.35 407.69,699.38 408.79,699.4 409.89,699.42 411,699.44 412.11,699.46 413.21,699.48 414.31,699.5 415.42,699.52 416.53,699.53 417.63,699.55 418.74,699.56 419.84,699.57 420.94,699.59 422.05,699.6 423.16,699.61 424.26,699.62 425.37,699.63 426.47,699.64 427.57,699.65 428.68,699.66 429.79,699.67 430.89,699.68 432,699.69 433.1,699.69 434.2,699.7 435.31,699.71 436.42,699.71 437.52,699.72 438.62,699.72 439.73,699.73 440.83,699.73 441.94,699.74 443.05,699.74 444.15,699.74 445.25,699.75 446.36,699.75 447.47,699.75 448.57,699.76 449.68,699.76 450.78,699.76 451.88,699.77 452.99,699.77 454.1,699.77 455.2,699.77 456.31,699.77 457.41,699.78 458.51,699.78 459.62,699.78 460.73,699.78 461.83,699.78 462.94,699.78 464.04,699.78 465.14,699.79 466.25,699.79 467.36,699.79 468.46,699.79 469.56,699.79 470.67,699.79 471.78,699.79 472.88,699.79 473.99,699.79 475.09,699.79 476.19,699.79 477.3,699.79" fill="none" stroke="#1E6FD9" stroke-width="3.0" stroke-linejoin="round" stroke-linecap="butt" />
<line x1="80.2" y1="554.2" x2="474.6" y2="554.2" stroke="#000" stroke-width="2.8"/>
<line x1="80.2" y1="575.4" x2="477.3" y2="575.4" stroke="#000" stroke-width="3"/>
<line x1="80.2" y1="700.6" x2="477.3" y2="700.6" stroke="#000" stroke-width="3"/>
<rect x="80.2" y="428" width="397.1" height="295.9" fill="none" stroke="#000" stroke-width="2.7"/>
<line x1="145.8" y1="723.9" x2="145.8" y2="738.9" stroke="#000" stroke-width="2.9"/>
<line x1="256.3" y1="723.9" x2="256.3" y2="738.9" stroke="#000" stroke-width="2.9"/>
<line x1="366.8" y1="723.9" x2="366.8" y2="738.9" stroke="#000" stroke-width="2.9"/>
<line x1="477.3" y1="723.9" x2="477.3" y2="738.9" stroke="#000" stroke-width="2.9"/>
<line x1="90.55" y1="723.9" x2="90.55" y2="731.4" stroke="#000" stroke-width="2.9"/>
<line x1="201.05" y1="723.9" x2="201.05" y2="731.4" stroke="#000" stroke-width="2.9"/>
<line x1="311.55" y1="723.9" x2="311.55" y2="731.4" stroke="#000" stroke-width="2.9"/>
<line x1="422.05" y1="723.9" x2="422.05" y2="731.4" stroke="#000" stroke-width="2.9"/>
<text transform="translate(145.8,766.6) scale(1.0,1.03)" font-size="33.2" text-anchor="middle" >400</text>
<text transform="translate(256.3,766.6) scale(1.0,1.03)" font-size="33.2" text-anchor="middle" >450</text>
<text transform="translate(366.8,766.6) scale(1.0,1.03)" font-size="33.2" text-anchor="middle" >500</text>
<text transform="translate(477.3,766.6) scale(1.0,1.03)" font-size="33.2" text-anchor="middle" >550</text>
<text x="279.2" y="796.6" font-size="33.2" text-anchor="middle" >Wavelength (nm)</text>
<text transform="translate(28,619.5) rotate(-90)" x="0" y="0" font-size="33" text-anchor="middle">Intensity (arb. units)</text>
<line x1="233" y1="441" x2="282.4" y2="441" stroke="#E8353B" stroke-width="3"/>
<line x1="233" y1="468.2" x2="282.4" y2="468.2" stroke="#1E6FD9" stroke-width="3"/>
<line x1="232.4" y1="588.9" x2="281.7" y2="588.9" stroke="#E8353B" stroke-width="3"/>
<line x1="232.4" y1="615.8" x2="281.7" y2="615.8" stroke="#1E6FD9" stroke-width="3"/>
<text x="288.4" y="448.8" font-size="22" >control-300K</text>
<text x="288.3" y="475.1" font-size="22" >STE emission × 2</text>
<text x="287.6" y="595.8" font-size="22" >Cs-rich 300K</text>
<text x="287.6" y="623" font-size="22" >STE emission × 10</text>
<text x="7.5" y="434.4" font-size="39" font-weight="bold" >d</text>
<polyline points="602.3,705.89 603.11,705.89 603.92,705.89 604.73,705.89 605.53,705.89 606.34,705.89 607.15,705.89 607.96,705.89 608.77,705.89 609.58,705.89 610.38,705.88 611.19,705.88 612,705.88 612.81,705.88 613.62,705.88 614.43,705.88 615.24,705.88 616.04,705.87 616.85,705.87 617.66,705.87 618.47,705.87 619.28,705.87 620.09,705.86 620.9,705.86 621.7,705.86 622.51,705.85 623.32,705.85 624.13,705.85 624.94,705.84 625.75,705.84 626.55,705.84 627.36,705.83 628.17,705.83 628.98,705.82 629.79,705.82 630.6,705.81 631.41,705.8 632.21,705.8 633.02,705.79 633.83,705.78 634.64,705.77 635.45,705.77 636.26,705.76 637.07,705.75 637.87,705.74 638.68,705.73 639.49,705.71 640.3,705.7 641.11,705.69 641.92,705.68 642.72,705.66 643.53,705.65 644.34,705.63 645.15,705.61 645.96,705.59 646.77,705.57 647.58,705.55 648.38,705.53 649.19,705.51 650,705.48 650.81,705.46 651.62,705.43 652.43,705.4 653.24,705.37 654.04,705.34 654.85,705.31 655.66,705.27 656.47,705.24 657.28,705.2 658.09,705.16 658.89,705.11 659.7,705.07 660.51,705.02 661.32,704.97 662.13,704.91 662.94,704.86 663.75,704.8 664.55,704.74 665.36,704.67 666.17,704.6 666.98,704.53 667.79,704.46 668.6,704.38 669.41,704.29 670.21,704.21 671.02,704.12 671.83,704.02 672.64,703.92 673.45,703.82 674.26,703.71 675.06,703.59 675.87,703.47 676.68,703.35 677.49,703.22 678.3,703.08 679.11,702.94 679.92,702.79 680.72,702.63 681.53,702.47 682.34,702.3 683.15,702.13 683.96,701.94 684.77,701.75 685.58,701.55 686.38,701.34 687.19,701.13 688,700.9 688.81,700.67 689.62,700.42 690.43,700.17 691.23,699.91 692.04,699.63 692.85,699.35 693.66,699.05 694.47,698.75 695.28,698.43 696.09,698.1 696.89,697.76 697.7,697.4 698.51,697.04 699.32,696.66 700.13,696.27 700.94,695.86 701.75,695.44 702.55,695 703.36,694.55 704.17,694.09 704.98,693.61 705.79,693.11 706.6,692.6 707.4,692.07 708.21,691.53 709.02,690.96 709.83,690.38 710.64,689.79 711.45,689.17 712.26,688.54 713.06,687.88 713.87,687.21 714.68,686.52 715.49,685.81 716.3,685.08 717.11,684.33 717.92,683.56 718.72,682.77 719.53,681.96 720.34,681.12 721.15,680.27 721.96,679.39 722.77,678.49 723.57,677.57 724.38,676.63 725.19,675.67 726,674.68 726.81,673.67 727.62,672.64 728.43,671.58 729.23,670.5 730.04,669.4 730.85,668.28 731.66,667.13 732.47,665.96 733.28,664.76 734.09,663.55 734.89,662.3 735.7,661.04 736.51,659.76 737.32,658.45 738.13,657.11 738.94,655.76 739.74,654.38 740.55,652.99 741.36,651.57 742.17,650.12 742.98,648.66 743.79,647.18 744.6,645.67 745.4,644.15 746.21,642.6 747.02,641.04 747.83,639.46 748.64,637.86 749.45,636.24 750.26,634.6 751.06,632.95 751.87,631.28 752.68,629.59 753.49,627.89 754.3,626.18 755.11,624.45 755.91,622.71 756.72,620.96 757.53,619.2 758.34,617.43 759.15,615.64 759.96,613.85 760.77,612.05 761.57,610.25 762.38,608.44 763.19,606.62 764,604.8 764.81,602.98 765.62,601.16 766.43,599.33 767.23,597.51 768.04,595.68 768.85,593.86 769.66,592.05 770.47,590.24 771.28,588.43 772.08,586.63 772.89,584.84 773.7,583.06 774.51,581.29 775.32,579.54 776.13,577.79 776.94,576.06 777.74,574.35 778.55,572.65 779.36,570.98 780.17,569.32 780.98,567.68 781.79,566.06 782.6,564.47 783.4,562.9 784.21,561.36 785.02,559.84 785.83,558.36 786.64,556.9 787.45,555.47 788.25,554.07 789.06,552.71 789.87,551.38 790.68,550.08 791.49,548.82 792.3,547.6 793.11,546.41 793.91,545.26 794.72,544.16 795.53,543.09 796.34,542.07 797.15,541.08 797.96,540.15 798.77,539.25 799.57,538.4 800.38,537.6 801.19,536.84 802,536.13 802.81,535.47 803.62,534.86 804.42,534.29 805.23,533.77 806.04,533.31 806.85,532.89 807.66,532.53 808.47,532.21 809.28,531.95 810.08,531.74 810.89,531.58 811.7,531.47 812.51,531.41 813.32,531.4 814.13,531.45 814.94,531.55 815.74,531.7 816.55,531.9 817.36,532.15 818.17,532.46 818.98,532.81 819.79,533.22 820.59,533.68 821.4,534.18 822.21,534.74 823.02,535.34 823.83,536 824.64,536.7 825.45,537.44 826.25,538.24 827.06,539.08 827.87,539.96 828.68,540.89 829.49,541.87 830.3,542.88 831.11,543.94 831.91,545.04 832.72,546.18 833.53,547.36 834.34,548.57 835.15,549.82 835.96,551.11 836.76,552.44 837.57,553.8 838.38,555.19 839.19,556.61 840,558.06 840.81,559.54 841.62,561.05 842.42,562.59 843.23,564.16 844.04,565.74 844.85,567.36 845.66,568.99 846.47,570.64 847.28,572.32 848.08,574.01 848.89,575.72 849.7,577.45 850.51,579.19 851.32,580.94 852.13,582.71 852.93,584.49 853.74,586.27 854.55,588.07 855.36,589.87 856.17,591.68 856.98,593.5 857.79,595.32 858.59,597.14 859.4,598.97 860.21,600.79 861.02,602.61 861.83,604.44 862.64,606.26 863.45,608.07 864.25,609.89 865.06,611.69 865.87,613.49 866.68,615.29 867.49,617.07 868.3,618.85 869.11,620.61 869.91,622.36 870.72,624.11 871.53,625.84 872.34,627.55 873.15,629.25 873.96,630.94 874.76,632.61 875.57,634.27 876.38,635.91 877.19,637.53 878,639.14 878.81,640.72 879.62,642.29 880.42,643.84 881.23,645.37 882.04,646.88 882.85,648.37 883.66,649.83 884.47,651.28 885.27,652.7 886.08,654.11 886.89,655.49 887.7,656.85 888.51,658.18 889.32,659.5 890.13,660.79 890.93,662.05 891.74,663.3 892.55,664.52 893.36,665.72 894.17,666.9 894.98,668.05 895.79,669.18 896.59,670.28 897.4,671.37 898.21,672.43 899.02,673.46 899.83,674.48 900.64,675.47 901.44,676.44 902.25,677.39 903.06,678.31 903.87,679.21 904.68,680.09 905.49,680.95 906.3,681.79 907.1,682.61 907.91,683.4 908.72,684.18 909.53,684.93 910.34,685.67 911.15,686.38 911.96,687.08 912.76,687.75 913.57,688.41 914.38,689.04 915.19,689.66 916,690.27 916.81,690.85 917.62,691.41 918.42,691.96 919.23,692.49 920.04,693.01 920.85,693.51 921.66,693.99 922.47,694.46 923.27,694.91 924.08,695.35 924.89,695.78 925.7,696.19 926.51,696.58 927.32,696.96 928.13,697.33 928.93,697.69 929.74,698.03 930.55,698.36 931.36,698.68 932.17,698.99 932.98,699.29 933.78,699.58 934.59,699.85 935.4,700.12 936.21,700.37 937.02,700.62 937.83,700.85 938.64,701.08 939.44,701.3 940.25,701.51 941.06,701.71 941.87,701.9 942.68,702.09 943.49,702.27 944.3,702.44 945.1,702.6 945.91,702.76 946.72,702.91 947.53,703.05 948.34,703.19 949.15,703.32 949.95,703.45 950.76,703.57 951.57,703.68 952.38,703.8 953.19,703.9 954,704 954.81,704.1 955.61,704.19 956.42,704.28 957.23,704.36 958.04,704.44 958.85,704.52 959.66,704.59 960.47,704.66 961.27,704.72 962.08,704.79 962.89,704.85 963.7,704.9 964.51,704.96 965.32,705.01 966.12,705.06 966.93,705.1 967.74,705.15 968.55,705.19 969.36,705.23 970.17,705.27 970.98,705.3 971.78,705.34 972.59,705.37 973.4,705.4 974.21,705.43" fill="none" stroke="#1E6FD9" stroke-width="3.0" stroke-linejoin="round" stroke-linecap="butt" />
<polyline points="602.3,705.87 603.11,705.86 603.92,705.86 604.73,705.86 605.53,705.86 606.34,705.86 607.15,705.85 607.96,705.85 608.77,705.85 609.58,705.85 610.38,705.84 611.19,705.84 612,705.84 612.81,705.83 613.62,705.83 614.43,705.83 615.24,705.82 616.04,705.82 616.85,705.82 617.66,705.81 618.47,705.81 619.28,705.8 620.09,705.8 620.9,705.79 621.7,705.79 622.51,705.78 623.32,705.77 624.13,705.77 624.94,705.76 625.75,705.76 626.55,705.75 627.36,705.74 628.17,705.73 628.98,705.73 629.79,705.72 630.6,705.71 631.41,705.7 632.21,705.69 633.02,705.68 633.83,705.67 634.64,705.66 635.45,705.65 636.26,705.63 637.07,705.62 637.87,705.61 638.68,705.6 639.49,705.58 640.3,705.57 641.11,705.55 641.92,705.54 642.72,705.52 643.53,705.5 644.34,705.48 645.15,705.47 645.96,705.45 646.77,705.43 647.58,705.41 648.38,705.38 649.19,705.36 650,705.34 650.81,705.31 651.62,705.29 652.43,705.26 653.24,705.23 654.04,705.2 654.85,705.17 655.66,705.14 656.47,705.11 657.28,705.08 658.09,705.04 658.89,705.01 659.7,704.97 660.51,704.93 661.32,704.89 662.13,704.85 662.94,704.81 663.75,704.76 664.55,704.71 665.36,704.67 666.17,704.62 666.98,704.56 667.79,704.51 668.6,704.45 669.41,704.4 670.21,704.34 671.02,704.27 671.83,704.21 672.64,704.14 673.45,704.08 674.26,704.01 675.06,703.93 675.87,703.86 676.68,703.78 677.49,703.7 678.3,703.61 679.11,703.53 679.92,703.44 680.72,703.34 681.53,703.25 682.34,703.15 683.15,703.05 683.96,702.94 684.77,702.83 685.58,702.72 686.38,702.61 687.19,702.49 688,702.36 688.81,702.24 689.62,702.11 690.43,701.97 691.23,701.83 692.04,701.69 692.85,701.54 693.66,701.39 694.47,701.23 695.28,701.07 696.09,700.9 696.89,700.73 697.7,700.56 698.51,700.38 699.32,700.19 700.13,700 700.94,699.8 701.75,699.6 702.55,699.39 703.36,699.18 704.17,698.95 704.98,698.73 705.79,698.5 706.6,698.26 707.4,698.01 708.21,697.76 709.02,697.5 709.83,697.24 710.64,696.96 711.45,696.68 712.26,696.4 713.06,696.1 713.87,695.8 714.68,695.49 715.49,695.18 716.3,694.85 717.11,694.52 717.92,694.18 718.72,693.83 719.53,693.47 720.34,693.11 721.15,692.73 721.96,692.35 722.77,691.96 723.57,691.56 724.38,691.15 725.19,690.73 726,690.3 726.81,689.86 727.62,689.41 728.43,688.95 729.23,688.48 730.04,688 730.85,687.52 731.66,687.02 732.47,686.51 733.28,685.99 734.09,685.46 734.89,684.92 735.7,684.36 736.51,683.8 737.32,683.23 738.13,682.64 738.94,682.04 739.74,681.44 740.55,680.82 741.36,680.18 742.17,679.54 742.98,678.89 743.79,678.22 744.6,677.54 745.4,676.85 746.21,676.15 747.02,675.44 747.83,674.71 748.64,673.97 749.45,673.22 750.26,672.46 751.06,671.68 751.87,670.89 752.68,670.09 753.49,669.28 754.3,668.45 755.11,667.62 755.91,666.77 756.72,665.9 757.53,665.03 758.34,664.14 759.15,663.24 759.96,662.33 760.77,661.4 761.57,660.46 762.38,659.51 763.19,658.55 764,657.58 764.81,656.59 765.62,655.59 766.43,654.58 767.23,653.56 768.04,652.53 768.85,651.48 769.66,650.42 770.47,649.36 771.28,648.28 772.08,647.18 772.89,646.08 773.7,644.97 774.51,643.84 775.32,642.71 776.13,641.56 776.94,640.41 777.74,639.24 778.55,638.07 779.36,636.88 780.17,635.69 780.98,634.48 781.79,633.27 782.6,632.05 783.4,630.82 784.21,629.58 785.02,628.33 785.83,627.08 786.64,625.82 787.45,624.55 788.25,623.27 789.06,621.99 789.87,620.7 790.68,619.41 791.49,618.11 792.3,616.8 793.11,615.49 793.91,614.18 794.72,612.86 795.53,611.54 796.34,610.21 797.15,608.88 797.96,607.55 798.77,606.22 799.57,604.88 800.38,603.54 801.19,602.2 802,600.86 802.81,599.52 803.62,598.18 804.42,596.85 805.23,595.51 806.04,594.17 806.85,592.84 807.66,591.51 808.47,590.18 809.28,588.85 810.08,587.53 810.89,586.21 811.7,584.9 812.51,583.59 813.32,582.29 814.13,580.99 814.94,579.7 815.74,578.42 816.55,577.14 817.36,575.88 818.17,574.62 818.98,573.37 819.79,572.13 820.59,570.9 821.4,569.68 822.21,568.47 823.02,567.28 823.83,566.09 824.64,564.92 825.45,563.76 826.25,562.62 827.06,561.48 827.87,560.37 828.68,559.26 829.49,558.18 830.3,557.11 831.11,556.05 831.91,555.01 832.72,553.99 833.53,552.99 834.34,552 835.15,551.03 835.96,550.09 836.76,549.16 837.57,548.25 838.38,547.36 839.19,546.49 840,545.64 840.81,544.82 841.62,544.01 842.42,543.23 843.23,542.47 844.04,541.73 844.85,541.02 845.66,540.33 846.47,539.66 847.28,539.02 848.08,538.4 848.89,537.8 849.7,537.23 850.51,536.69 851.32,536.17 852.13,535.68 852.93,535.21 853.74,534.77 854.55,534.35 855.36,533.97 856.17,533.61 856.98,533.27 857.79,532.96 858.59,532.68 859.4,532.43 860.21,532.21 861.02,532.01 861.83,531.84 862.64,531.7 863.45,531.58 864.25,531.49 865.06,531.44 865.87,531.41 866.68,531.4 867.49,531.43 868.3,531.48 869.11,531.56 869.91,531.67 870.72,531.81 871.53,531.97 872.34,532.16 873.15,532.38 873.96,532.63 874.76,532.91 875.57,533.21 876.38,533.54 877.19,533.89 878,534.27 878.81,534.68 879.62,535.12 880.42,535.58 881.23,536.07 882.04,536.58 882.85,537.12 883.66,537.69 884.47,538.28 885.27,538.89 886.08,539.53 886.89,540.19 887.7,540.88 888.51,541.59 889.32,542.32 890.13,543.07 890.93,543.85 891.74,544.65 892.55,545.48 893.36,546.32 894.17,547.18 894.98,548.07 895.79,548.97 896.59,549.9 897.4,550.84 898.21,551.81 899.02,552.79 899.83,553.79 900.64,554.81 901.44,555.84 902.25,556.89 903.06,557.96 903.87,559.05 904.68,560.15 905.49,561.26 906.3,562.39 907.1,563.53 907.91,564.69 908.72,565.86 909.53,567.04 910.34,568.23 911.15,569.44 911.96,570.66 912.76,571.88 913.57,573.12 914.38,574.37 915.19,575.62 916,576.89 916.81,578.16 917.62,579.44 918.42,580.73 919.23,582.03 920.04,583.33 920.85,584.63 921.66,585.95 922.47,587.26 923.27,588.59 924.08,589.91 924.89,591.24 925.7,592.57 926.51,593.9 927.32,595.24 928.13,596.58 928.93,597.92 929.74,599.26 930.55,600.6 931.36,601.94 932.17,603.27 932.98,604.61 933.78,605.95 934.59,607.28 935.4,608.62 936.21,609.95 937.02,611.27 937.83,612.6 938.64,613.92 939.44,615.23 940.25,616.54 941.06,617.85 941.87,619.15 942.68,620.45 943.49,621.73 944.3,623.02 945.1,624.3 945.91,625.57 946.72,626.83 947.53,628.08 948.34,629.33 949.15,630.57 949.95,631.8 950.76,633.03 951.57,634.24 952.38,635.45 953.19,636.64 954,637.83 954.81,639.01 955.61,640.18 956.42,641.33 957.23,642.48 958.04,643.62 958.85,644.74 959.66,645.86 960.47,646.96 961.27,648.06 962.08,649.14 962.89,650.21 963.7,651.27 964.51,652.32 965.32,653.36 966.12,654.38 966.93,655.39 967.74,656.39 968.55,657.38 969.36,658.36 970.17,659.32 970.98,660.28 971.78,661.22 972.59,662.14 973.4,663.06 974.21,663.96" fill="none" stroke="#E8353B" stroke-width="3.0" stroke-linejoin="round" stroke-linecap="butt" />
<polyline points="602.3,696.65 602.7,696.65 603.11,696.64 603.51,696.64 603.92,696.63 604.32,696.63 604.73,696.62 605.13,696.61 605.53,696.6 605.94,696.59 606.34,696.58 606.75,696.57 607.15,696.56 607.56,696.55 607.96,696.54 608.36,696.53 608.77,696.52 609.17,696.51 609.58,696.49 609.98,696.48 610.38,696.47 610.79,696.45 611.19,696.44 611.6,696.42 612,696.41 612.41,696.39 612.81,696.37 613.21,696.36 613.62,696.34 614.02,696.32 614.43,696.31 614.83,696.29 615.24,696.27 615.64,696.26 616.04,696.24 616.45,696.22 616.85,696.2 617.26,696.18 617.66,696.16 618.07,696.15 618.47,696.13 618.87,696.11 619.28,696.09 619.68,696.07 620.09,696.05 620.49,696.03 620.9,696.01 621.3,695.98 621.7,695.96 622.11,695.94 622.51,695.91 622.92,695.89 623.32,695.86 623.73,695.83 624.13,695.81 624.53,695.78 624.94,695.75 625.34,695.72 625.75,695.69 626.15,695.66 626.55,695.62 626.96,695.59 627.36,695.56 627.77,695.52 628.17,695.49 628.58,695.45 628.98,695.41 629.38,695.38 629.79,695.34 630.19,695.3 630.6,695.25 631,695.21 631.41,695.17 631.81,695.13 632.21,695.08 632.62,695.03 633.02,694.98 633.43,694.93 633.83,694.87 634.24,694.81 634.64,694.74 635.04,694.67 635.45,694.6 635.85,694.53 636.26,694.45 636.66,694.37 637.07,694.29 637.47,694.2 637.87,694.12 638.28,694.03 638.68,693.94 639.09,693.85 639.49,693.76 639.9,693.66 640.3,693.57 640.7,693.47 641.11,693.38 641.51,693.28 641.92,693.18 642.32,693.08 642.72,692.99 643.13,692.89 643.53,692.78 643.94,692.68 644.34,692.57 644.75,692.46 645.15,692.34 645.55,692.23 645.96,692.11 646.36,691.98 646.77,691.86 647.17,691.73 647.58,691.6 647.98,691.47 648.38,691.34 648.79,691.2 649.19,691.07 649.6,690.93 650,690.79 650.41,690.66 650.81,690.52 651.21,690.38 651.62,690.23 652.02,690.08 652.43,689.93 652.83,689.76 653.24,689.59 653.64,689.41 654.04,689.22 654.45,689.02 654.85,688.8 655.26,688.56 655.66,688.31 656.07,688.04 656.47,687.75 656.87,687.45 657.28,687.13 657.68,686.8 658.09,686.46 658.49,686.1 658.89,685.73 659.3,685.35 659.7,684.96 660.11,684.55 660.51,684.12 660.92,683.65 661.32,683.17 661.72,682.66 662.13,682.13 662.53,681.59 662.94,681.02 663.34,680.44 663.75,679.84 664.15,679.23 664.55,678.6 664.96,677.94 665.36,677.24 665.77,676.52 666.17,675.77 666.58,674.99 666.98,674.2 667.38,673.39 667.79,672.57 668.19,671.74 668.6,670.91 669,670.08 669.41,669.25 669.81,668.43 670.21,667.6 670.62,666.76 671.02,665.92 671.43,665.06 671.83,664.2 672.24,663.32 672.64,662.44 673.04,661.54 673.45,660.64 673.85,659.72 674.26,658.78 674.66,657.83 675.06,656.85 675.47,655.85 675.87,654.84 676.28,653.81 676.68,652.77 677.09,651.73 677.49,650.68 677.89,649.64 678.3,648.6 678.7,647.58 679.11,646.57 679.51,645.57 679.92,644.56 680.32,643.55 680.72,642.53 681.13,641.52 681.53,640.52 681.94,639.52 682.34,638.53 682.75,637.56 683.15,636.59 683.55,635.65 683.96,634.72 684.36,633.81 684.77,632.93 685.17,632.06 685.58,631.21 685.98,630.37 686.38,629.54 686.79,628.71 687.19,627.89 687.6,627.07 688,626.24 688.41,625.41 688.81,624.57 689.21,623.71 689.62,622.87 690.02,622.05 690.43,621.24 690.83,620.43 691.23,619.61 691.64,618.79 692.04,617.95 692.45,617.08 692.85,616.18 693.26,615.24 693.66,614.25 694.06,613.2 694.47,612.07 694.87,610.87 695.28,609.59 695.68,608.26 696.09,606.88 696.49,605.48 696.89,604.05 697.3,602.62 697.7,601.2 698.11,599.78 698.51,598.35 698.92,596.9 699.32,595.43 699.72,593.93 700.13,592.4 700.53,590.83 700.94,589.23 701.34,587.58 701.75,585.86 702.15,584.04 702.55,582.16 702.96,580.22 703.36,578.25 703.77,576.27 704.17,574.31 704.58,572.38 704.98,570.52 705.38,568.72 705.79,566.96 706.19,565.22 706.6,563.5 707,561.81 707.4,560.12 707.81,558.44 708.21,556.77 708.62,555.09 709.02,553.4 709.43,551.64 709.83,549.82 710.23,547.99 710.64,546.2 711.04,544.47 711.45,542.85 711.85,541.39 712.26,540.12 712.66,538.94 713.06,537.75 713.47,536.6 713.87,535.56 714.28,534.69 714.68,534.05 715.09,533.7 715.49,533.58 715.89,533.48 716.3,533.39 716.7,533.32 717.11,533.26 717.51,533.21 717.92,533.17 718.32,533.15 718.72,533.14 719.13,533.19 719.53,533.3 719.94,533.48 720.34,533.71 720.75,533.97 721.15,534.27 721.55,534.58 721.96,534.89 722.36,535.24 722.77,535.67 723.17,536.16 723.57,536.71 723.98,537.3 724.38,537.93 724.79,538.59 725.19,539.25 725.6,539.94 726,540.67 726.4,541.45 726.81,542.28 727.21,543.16 727.62,544.12 728.02,545.14 728.43,546.23 728.83,547.45 729.23,548.83 729.64,550.35 730.04,551.99 730.45,553.73 730.85,555.55 731.26,557.44 731.66,559.5 732.06,561.75 732.47,564.13 732.87,566.62 733.28,569.15 733.68,571.67 734.09,574.15 734.49,576.59 734.89,579.03 735.3,581.49 735.7,583.96 736.11,586.47 736.51,589 736.92,591.59 737.32,594.22 737.72,596.93 738.13,599.71 738.53,602.55 738.94,605.43 739.34,608.32 739.74,611.21 740.15,614.08 740.55,616.9 740.96,619.73 741.36,622.58 741.77,625.44 742.17,628.28 742.57,631.06 742.98,633.76 743.38,636.35 743.79,638.82 744.19,641.2 744.6,643.52 745,645.77 745.4,647.97 745.81,650.11 746.21,652.19 746.62,654.2 747.02,656.17 747.43,658.1 747.83,660.01 748.23,661.89 748.64,663.73 749.04,665.53 749.45,667.27 749.85,668.94 750.26,670.53 750.66,672.03 751.06,673.44 751.47,674.78 751.87,676.09 752.28,677.35 752.68,678.58 753.09,679.76 753.49,680.9 753.89,681.99 754.3,683.04 754.7,684.04 755.11,684.98 755.51,685.87 755.91,686.7 756.32,687.49 756.72,688.24 757.13,688.96 757.53,689.65 757.94,690.31 758.34,690.94 758.74,691.55 759.15,692.14 759.55,692.71 759.96,693.27 760.36,693.81 760.77,694.35 761.17,694.87 761.57,695.39 761.98,695.9 762.38,696.4 762.79,696.89 763.19,697.37 763.6,697.82 764,698.26 764.4,698.68 764.81,699.08 765.21,699.45 765.62,699.79 766.02,700.12 766.43,700.44 766.83,700.76 767.23,701.07 767.64,701.37 768.04,701.65 768.45,701.92 768.85,702.18 769.26,702.41 769.66,702.63 770.06,702.82 770.47,702.99 770.87,703.14 771.28,703.27 771.68,703.39 772.08,703.51 772.49,703.62 772.89,703.72 773.3,703.81 773.7,703.9 774.11,703.98 774.51,704.05 774.91,704.11 775.32,704.15 775.72,704.2 776.13,704.24 776.53,704.28 776.94,704.32 777.34,704.36 777.74,704.4 778.15,704.43 778.55,704.45 778.96,704.47 779.36,704.49 779.77,704.5 780.17,704.5" fill="none" stroke="#1E6FD9" stroke-width="3.0" stroke-linejoin="round" stroke-linecap="butt" stroke-dasharray="11.5,14.5" stroke-dashoffset="21.63"/>
<polyline points="654.53,705.03 654.93,704.95 655.34,704.85 655.74,704.72 656.15,704.59 656.55,704.43 656.95,704.26 657.36,704.07 657.76,703.88 658.17,703.67 658.57,703.46 658.98,703.24 659.38,703 659.78,702.74 660.19,702.45 660.59,702.14 661,701.81 661.4,701.46 661.81,701.09 662.21,700.69 662.61,700.28 663.02,699.84 663.42,699.39 663.83,698.92 664.23,698.42 664.64,697.9 665.04,697.32 665.44,696.67 665.85,695.97 666.25,695.21 666.66,694.42 667.06,693.59 667.47,692.73 667.87,691.86 668.27,690.96 668.68,690.06 669.08,689.16 669.49,688.27 669.89,687.34 670.29,686.34 670.7,685.31 671.1,684.24 671.51,683.16 671.91,682.06 672.32,680.98 672.72,679.91 673.12,678.87 673.53,677.88 673.93,676.94 674.34,676.07 674.74,675.24 675.15,674.45 675.55,673.69 675.95,672.95 676.36,672.24 676.76,671.53 677.17,670.84 677.57,670.15 677.98,669.47 678.38,668.78 678.78,668.08 679.19,667.37 679.59,666.66 680,665.96 680.4,665.26 680.81,664.56 681.21,663.87 681.61,663.18 682.02,662.49 682.42,661.79 682.83,661.09 683.23,660.38 683.64,659.66 684.04,658.93 684.44,658.19 684.85,657.45 685.25,656.7 685.66,655.95 686.06,655.19 686.46,654.42 686.87,653.65 687.27,652.87 687.68,652.09 688.08,651.29 688.49,650.49 688.89,649.68 689.29,648.86 689.7,648.05 690.1,647.26 690.51,646.46 690.91,645.67 691.32,644.86 691.72,644.03 692.12,643.17 692.53,642.29 692.93,641.36 693.34,640.39 693.74,639.36 694.15,638.27 694.55,637.09 694.95,635.81 695.36,634.46 695.76,633.04 696.17,631.56 696.57,630.04 696.98,628.48 697.38,626.9 697.78,625.31 698.19,623.68 698.59,622 699,620.28 699.4,618.5 699.81,616.69 700.21,614.83 700.61,612.94 701.02,611.01 701.42,609.05 701.83,607.03 702.23,604.93 702.63,602.76 703.04,600.55 703.44,598.3 703.85,596.05 704.25,593.81 704.66,591.59 705.06,589.41 705.46,587.28 705.87,585.14 706.27,583.01 706.68,580.89 707.08,578.78 707.49,576.69 707.89,574.62 708.29,572.59 708.7,570.58 709.1,568.61 709.51,566.67 709.91,564.75 710.32,562.86 710.72,560.99 711.12,559.14 711.53,557.32 711.93,555.51 712.34,553.73 712.74,551.84 713.15,549.88 713.55,547.92 713.95,546.05 714.36,544.36 714.76,542.94 715.17,541.87 715.57,541.06 715.98,540.34 716.38,539.7 716.78,539.14 717.19,538.63 717.59,538.17 718,537.75 718.4,537.35 718.8,536.94 719.21,536.53 719.61,536.14 720.02,535.8 720.42,535.52 720.83,535.33 721.23,535.24 721.63,535.28 722.04,535.42 722.44,535.65 722.85,535.96 723.25,536.32 723.66,536.73 724.06,537.16 724.46,537.6 724.87,538.11 725.27,538.74 725.68,539.46 726.08,540.27 726.49,541.16 726.89,542.12 727.29,543.14 727.7,544.21 728.1,545.32 728.51,546.47 728.91,547.73 729.32,549.14 729.72,550.68 730.12,552.33 730.53,554.09 730.93,555.92 731.34,557.83 731.74,559.93 732.15,562.21 732.55,564.62 732.95,567.12 733.36,569.65 733.76,572.17 734.17,574.64 734.57,577.08 734.97,579.52 735.38,581.98 735.78,584.46 736.19,586.97 736.59,589.52 737,592.11 737.4,594.75 737.8,597.48 738.21,600.28 738.61,603.13 739.02,606.01 739.42,608.9 739.83,611.79 740.23,614.65 740.63,617.47 741.04,620.3 741.44,623.15 741.85,626.01 742.25,628.84 742.66,631.61 743.06,634.29 743.46,636.86 743.87,639.3 744.27,641.67 744.68,643.97 745.08,646.22 745.49,648.4 745.89,650.53 746.29,652.59 746.7,654.6 747.1,656.55 747.51,658.48 747.91,660.39 748.32,662.26 748.72,664.09 749.12,665.88 749.53,667.6 749.93,669.26 750.34,670.84 750.74,672.32 751.14,673.71 751.55,675.05 751.95,676.34 752.36,677.6 752.76,678.82 753.17,679.99 753.57,681.12 753.97,682.21 754.38,683.24 754.78,684.23 755.19,685.16 755.59,686.04 756,686.87 756.4,687.65 756.8,688.39 757.21,689.1 757.61,689.78 758.02,690.44 758.42,691.07 758.83,691.67 759.23,692.26 759.63,692.83 760.04,693.38 760.44,693.92 760.85,694.45 761.25,694.98 761.66,695.49 762.06,696 762.46,696.5 762.87,696.99 763.27,697.46 763.68,697.91 764.08,698.35 764.49,698.76 764.89,699.15 765.29,699.52 765.7,699.86 766.1,700.19 766.51,700.51 766.91,700.82 767.31,701.13 767.72,701.42 768.12,701.71 768.53,701.97 768.93,702.22 769.34,702.46 769.74,702.67 770.14,702.86 770.55,703.02 770.95,703.16 771.36,703.29 771.76,703.42 772.17,703.53 772.57,703.64 772.97,703.74 773.38,703.83 773.78,703.92 774.19,703.99 774.59,704.06 775,704.12 775.4,704.16 775.8,704.21 776.21,704.25 776.61,704.29 777.02,704.33 777.42,704.37 777.83,704.4 778.23,704.43 778.63,704.46 779.04,704.48 779.44,704.49 779.85,704.5" fill="none" stroke="#E8353B" stroke-width="3.0" stroke-linejoin="round" stroke-linecap="butt" stroke-dasharray="11.5,14.5" stroke-dashoffset="25.79"/>
<rect x="602" y="425.9" width="372.1" height="297.8" fill="none" stroke="#000" stroke-width="2.9"/>
<line x1="587" y1="705.9" x2="602" y2="705.9" stroke="#000" stroke-width="2.9"/>
<line x1="587" y1="636.1" x2="602" y2="636.1" stroke="#000" stroke-width="2.9"/>
<line x1="587" y1="566.3" x2="602" y2="566.3" stroke="#000" stroke-width="2.9"/>
<line x1="587" y1="496.5" x2="602" y2="496.5" stroke="#000" stroke-width="2.9"/>
<line x1="587" y1="426.7" x2="602" y2="426.7" stroke="#000" stroke-width="2.9"/>
<line x1="594.5" y1="671" x2="602" y2="671" stroke="#000" stroke-width="2.9"/>
<line x1="594.5" y1="601.2" x2="602" y2="601.2" stroke="#000" stroke-width="2.9"/>
<line x1="594.5" y1="531.4" x2="602" y2="531.4" stroke="#000" stroke-width="2.9"/>
<line x1="594.5" y1="461.6" x2="602" y2="461.6" stroke="#000" stroke-width="2.9"/>
<line x1="650.81" y1="723.7" x2="650.81" y2="738.7" stroke="#000" stroke-width="2.9"/>
<line x1="731.66" y1="723.7" x2="731.66" y2="738.7" stroke="#000" stroke-width="2.9"/>
<line x1="812.51" y1="723.7" x2="812.51" y2="738.7" stroke="#000" stroke-width="2.9"/>
<line x1="893.36" y1="723.7" x2="893.36" y2="738.7" stroke="#000" stroke-width="2.9"/>
<line x1="974.21" y1="723.7" x2="974.21" y2="738.7" stroke="#000" stroke-width="2.9"/>
<line x1="610.38" y1="723.7" x2="610.38" y2="731.2" stroke="#000" stroke-width="2.9"/>
<line x1="691.23" y1="723.7" x2="691.23" y2="731.2" stroke="#000" stroke-width="2.9"/>
<line x1="772.08" y1="723.7" x2="772.08" y2="731.2" stroke="#000" stroke-width="2.9"/>
<line x1="852.93" y1="723.7" x2="852.93" y2="731.2" stroke="#000" stroke-width="2.9"/>
<line x1="933.78" y1="723.7" x2="933.78" y2="731.2" stroke="#000" stroke-width="2.9"/>
<text transform="translate(586.2,714.9) scale(1.0,1.03)" font-size="32.3" text-anchor="end" >0.0</text>
<text transform="translate(586.2,645.1) scale(1.0,1.03)" font-size="32.3" text-anchor="end" >0.4</text>
<text transform="translate(586.2,575.3) scale(1.0,1.03)" font-size="32.3" text-anchor="end" >0.8</text>
<text transform="translate(586.2,505.5) scale(1.0,1.03)" font-size="32.3" text-anchor="end" >1.2</text>
<text transform="translate(586.2,435.7) scale(1.0,1.03)" font-size="32.3" text-anchor="end" >1.6</text>
<text transform="translate(650.81,764.4) scale(1.0,1.03)" font-size="33.2" text-anchor="middle" >350</text>
<text transform="translate(731.66,764.4) scale(1.0,1.03)" font-size="33.2" text-anchor="middle" >400</text>
<text transform="translate(812.51,764.4) scale(1.0,1.03)" font-size="33.2" text-anchor="middle" >450</text>
<text transform="translate(893.36,764.4) scale(1.0,1.03)" font-size="33.2" text-anchor="middle" >500</text>
<text transform="translate(974.21,764.4) scale(1.0,1.03)" font-size="33.2" text-anchor="middle" >550</text>
<text x="788.6" y="793.3" font-size="33.2" text-anchor="middle" >Wavelength (nm)</text>
<text transform="translate(528.8,603.6) rotate(-90)" x="0" y="0" font-size="33" text-anchor="middle">Intensity (arb. units)</text>
<line x1="690.7" y1="438.1" x2="740.6" y2="438.1" stroke="#1E6FD9" stroke-width="3"/>
<line x1="690.7" y1="464.5" x2="740.6" y2="464.5" stroke="#E8353B" stroke-width="3"/>
<line x1="690.7" y1="492.5" x2="740.6" y2="492.5" stroke="#1E6FD9" stroke-width="3" stroke-dasharray="11.3,15"/>
<line x1="690.7" y1="519.2" x2="740.6" y2="519.2" stroke="#E8353B" stroke-width="3" stroke-dasharray="11.3,15"/>
<text x="747" y="446" font-size="22.1" >CsI-rich STE emission</text>
<text x="747" y="472.3" font-size="22.1" >control STE emission</text>
<text x="747" y="499.4" font-size="22.1" >CsI-rich CFE excitation</text>
<text x="747" y="526.2" font-size="22.1" >control CFE excitation</text>
<text x="502.2" y="434.6" font-size="40" font-weight="bold" >e</text>
<rect x="1184" y="581.4" width="75.3" height="142.6" fill="#EF4044"/>
<rect x="1369.6" y="499.8" width="74.9" height="224.2" fill="#1C6FDD"/>
<rect x="1129.2" y="427.7" width="370.2" height="296.1" fill="none" stroke="#000" stroke-width="2.9"/>
<line x1="1114.2" y1="724" x2="1129.2" y2="724" stroke="#000" stroke-width="2.9"/>
<line x1="1114.2" y1="664.2" x2="1129.2" y2="664.2" stroke="#000" stroke-width="2.9"/>
<line x1="1114.2" y1="604.4" x2="1129.2" y2="604.4" stroke="#000" stroke-width="2.9"/>
<line x1="1114.2" y1="544.6" x2="1129.2" y2="544.6" stroke="#000" stroke-width="2.9"/>
<line x1="1114.2" y1="484.8" x2="1129.2" y2="484.8" stroke="#000" stroke-width="2.9"/>
<line x1="1121.7" y1="694.1" x2="1129.2" y2="694.1" stroke="#000" stroke-width="2.9"/>
<line x1="1121.7" y1="634.3" x2="1129.2" y2="634.3" stroke="#000" stroke-width="2.9"/>
<line x1="1121.7" y1="574.5" x2="1129.2" y2="574.5" stroke="#000" stroke-width="2.9"/>
<line x1="1121.7" y1="514.7" x2="1129.2" y2="514.7" stroke="#000" stroke-width="2.9"/>
<line x1="1121.7" y1="454.9" x2="1129.2" y2="454.9" stroke="#000" stroke-width="2.9"/>
<line x1="1221.4" y1="723.8" x2="1221.4" y2="738.8" stroke="#000" stroke-width="2.9"/>
<line x1="1406.6" y1="723.8" x2="1406.6" y2="738.8" stroke="#000" stroke-width="2.9"/>
<line x1="1129.2" y1="723.8" x2="1129.2" y2="731.3" stroke="#000" stroke-width="2.9"/>
<line x1="1314.5" y1="723.8" x2="1314.5" y2="731.3" stroke="#000" stroke-width="2.9"/>
<line x1="1499.4" y1="723.8" x2="1499.4" y2="731.3" stroke="#000" stroke-width="2.9"/>
<text transform="translate(1112.5,734.2) scale(1.0,1.04)" font-size="33" text-anchor="end" >0</text>
<text transform="translate(1112.5,674.4) scale(1.0,1.04)" font-size="33" text-anchor="end" >20</text>
<text transform="translate(1112.5,614.6) scale(1.0,1.04)" font-size="33" text-anchor="end" >40</text>
<text transform="translate(1112.5,554.8) scale(1.0,1.04)" font-size="33" text-anchor="end" >60</text>
<text transform="translate(1112.5,495) scale(1.0,1.04)" font-size="33" text-anchor="end" >80</text>
<text transform="translate(1223.5,567.3) scale(1.0,1.04)" font-size="33" text-anchor="middle" >47.4</text>
<text transform="translate(1409.8,483.9) scale(1.0,1.04)" font-size="33" text-anchor="middle" >74.6</text>
<text x="1221.4" y="775" font-size="33.2" text-anchor="middle" >control</text>
<text x="1407.2" y="775" font-size="33.2" text-anchor="middle" >Cs-rich</text>
<text transform="translate(1064.7,575.3) rotate(-90)" x="0" y="0" font-size="33.5" text-anchor="middle">PLQY (%)</text>
<text transform="translate(1047.2,434.2) scale(1.06,1.0)" font-size="39" font-weight="bold" >f</text>
</svg>
</body></html>
